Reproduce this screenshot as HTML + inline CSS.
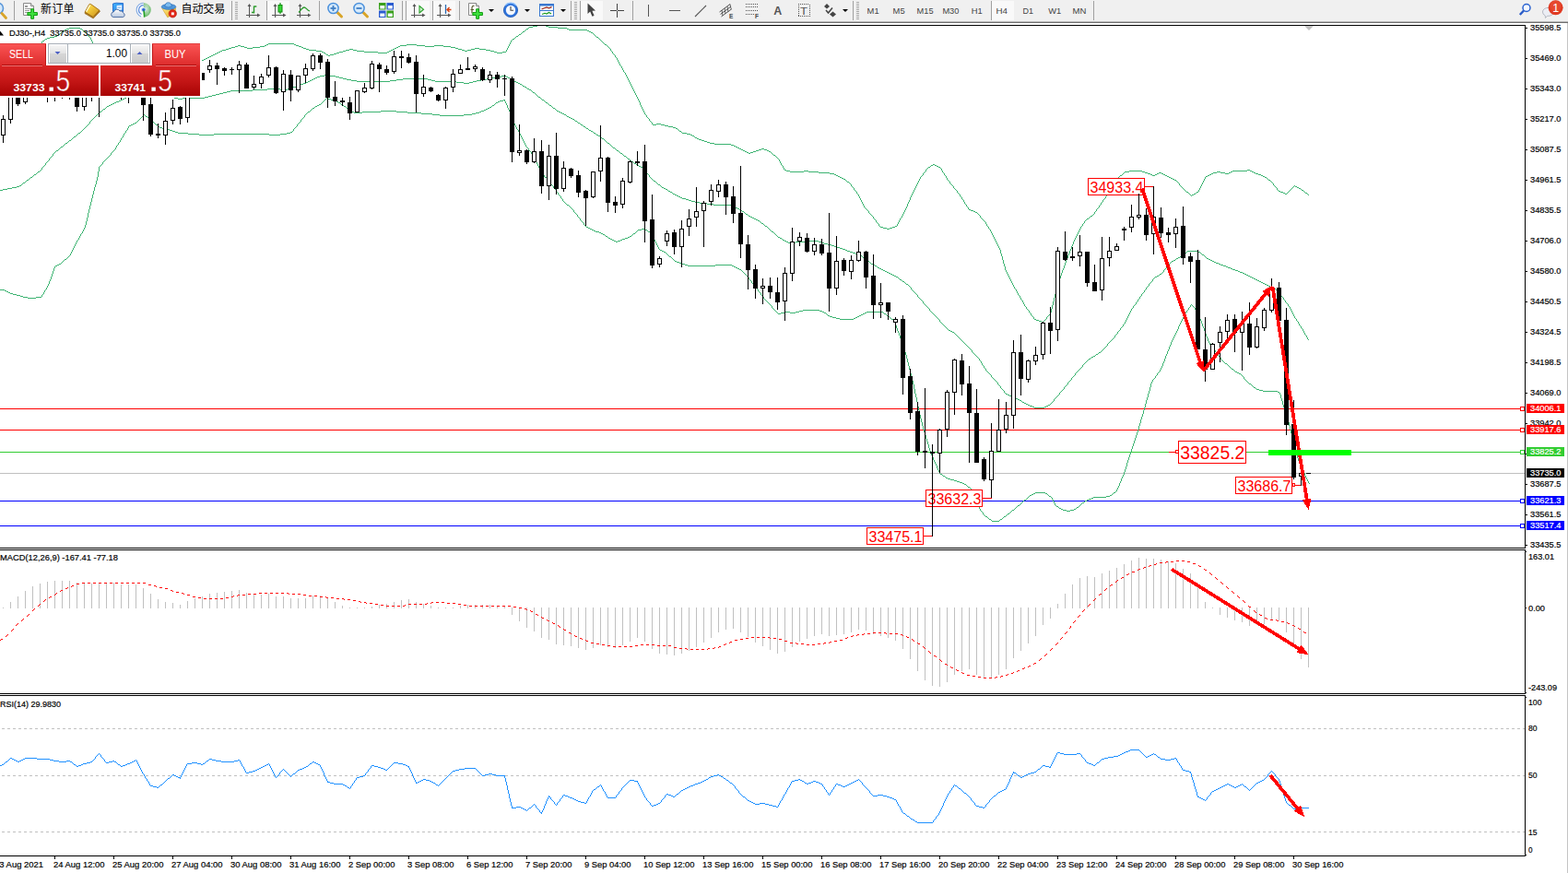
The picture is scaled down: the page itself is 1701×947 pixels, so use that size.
<!DOCTYPE html>
<html><head><meta charset="utf-8"><title>DJ30 H4</title>
<style>html,body{margin:0;padding:0;background:#fff;overflow:hidden}body{width:1701px;height:947px;font-family:"Liberation Sans",sans-serif}svg text{font-family:"Liberation Sans",sans-serif}</style>
</head><body>
<svg width="1701" height="947" viewBox="0 0 1701 947" font-family="Liberation Sans, sans-serif" style="display:block"><rect x="0" y="0" width="1701" height="947" fill="#fff"/>
<defs><clipPath id="cm"><rect x="0" y="28" width="1654" height="566"/></clipPath><clipPath id="cmacd"><rect x="0" y="597" width="1654" height="155"/></clipPath><clipPath id="crsi"><rect x="0" y="755" width="1654" height="173"/></clipPath><clipPath id="ctime"><rect x="0" y="929" width="1654" height="18"/></clipPath><linearGradient id="gTop" x1="0" y1="0" x2="0" y2="1"><stop offset="0" stop-color="#fb5555"/><stop offset="1" stop-color="#dd2c2c"/></linearGradient><linearGradient id="gBot" x1="0" y1="0" x2="0" y2="1"><stop offset="0" stop-color="#d82424"/><stop offset="0.5" stop-color="#c41616"/><stop offset="1" stop-color="#a80404"/></linearGradient><linearGradient id="gBotU" gradientUnits="userSpaceOnUse" x1="0" y1="71" x2="0" y2="104"><stop offset="0" stop-color="#d82424"/><stop offset="0.5" stop-color="#c41616"/><stop offset="1" stop-color="#a80404"/></linearGradient><linearGradient id="gBtn" x1="0" y1="0" x2="0" y2="1"><stop offset="0" stop-color="#f6f6f6"/><stop offset="0.45" stop-color="#e4e4e4"/><stop offset="0.5" stop-color="#d6d6d6"/><stop offset="1" stop-color="#cccccc"/></linearGradient></defs>
<g clip-path="url(#cm)">
<g shape-rendering="crispEdges">
<rect x="0" y="513" width="1654" height="1" fill="#c0c0c0"/>
<rect x="0" y="443" width="1654" height="1" fill="#ff0000"/>
<rect x="0" y="466" width="1654" height="1" fill="#ff0000"/>
<rect x="0" y="490" width="1654" height="1" fill="#32cd32"/>
<rect x="0" y="543" width="1654" height="1" fill="#0000ff"/>
<rect x="0" y="570" width="1654" height="1" fill="#0000ff"/>
<rect x="1649.5" y="441.5" width="4" height="4" fill="#fff" stroke="#ff0000" stroke-width="1"/>
<rect x="1649.5" y="464.5" width="4" height="4" fill="#fff" stroke="#ff0000" stroke-width="1"/>
<rect x="1649.5" y="488.5" width="4" height="4" fill="#fff" stroke="#32cd32" stroke-width="1"/>
<rect x="1649.5" y="541.5" width="4" height="4" fill="#fff" stroke="#0000ff" stroke-width="1"/>
<rect x="1649.5" y="568.5" width="4" height="4" fill="#fff" stroke="#0000ff" stroke-width="1"/>
</g>
<path d="M0 75h1v1h-1zM1 74h2v1h-2zM3 73h1v1h-1zM4 72h1v1h-1zM5 71h2v1h-2zM7 70h1v1h-1zM8 69h1v1h-1zM9 68h2v1h-2zM11 67h1v1h-1zM12 66h1v1h-1zM13 65h2v1h-2zM15 64h1v1h-1zM16 63h1v1h-1zM17 62h2v1h-2zM19 61h1v1h-1zM20 60h2v1h-2zM22 59h2v1h-2zM24 58h2v1h-2zM26 57h2v1h-2zM28 56h2v1h-2zM30 55h3v1h-3zM33 54h2v1h-2zM35 53h2v1h-2zM37 52h2v1h-2zM39 51h2v1h-2zM41 50h2v1h-2zM43 49h2v1h-2zM44 47v2h1v-2zM45 45v2h1v-2zM46 44h2v1h-2zM48 43h1v1h-1zM49 42h2v1h-2zM51 41h3v1h-3zM54 40h5v1h-5zM59 39h3v1h-3zM62 38h1v1h-1zM63 37h2v1h-2zM65 36h1v1h-1zM66 35h1v1h-1zM67 34h2v1h-2zM69 33h1v1h-1zM70 32h2v1h-2zM72 31h3v1h-3zM75 30h12v1h-12zM87 31h2v1h-2zM89 32h1v1h-1zM90 33h1v1h-1zM91 34h2v1h-2zM93 35h1v1h-1zM94 36h1v1h-1zM95 37v2h1v-2zM96 39h1v1h-1zM97 40h1v1h-1zM98 41v2h1v-2zM99 43v2h1v-2zM100 45v3h1v-3zM101 48v2h1v-2zM102 49h1v1h-1zM103 50h3v1h-3zM106 51h4v1h-4zM110 52h3v1h-3zM113 53h3v1h-3zM116 54h3v1h-3zM119 55h3v1h-3zM122 56h4v1h-4zM126 57h3v1h-3zM129 58h4v1h-4zM133 59h4v1h-4zM137 60h4v1h-4zM141 61h4v1h-4zM145 62h4v1h-4zM149 63h4v1h-4zM153 64h4v1h-4zM157 65h4v1h-4zM161 66h4v1h-4zM165 67h4v1h-4zM169 68h17v1h-17zM186 69h17v1h-17zM203 68h5v1h-5zM208 67h4v1h-4zM212 66h5v1h-5zM217 65h4v1h-4zM221 64h2v1h-2zM223 63h2v1h-2zM225 62h2v1h-2zM227 61h2v1h-2zM229 60h2v1h-2zM231 59h2v1h-2zM233 58h2v1h-2zM235 57h2v1h-2zM237 56h2v1h-2zM239 55h2v1h-2zM241 54h4v1h-4zM245 53h3v1h-3zM248 52h3v1h-3zM251 51h4v1h-4zM255 50h3v1h-3zM258 49h3v1h-3zM261 50h4v1h-4zM265 51h3v1h-3zM268 52h6v1h-6zM274 51h8v1h-8zM282 50h5v1h-5zM287 49h2v1h-2zM289 48h2v1h-2zM291 47h28v1h-28zM319 48h2v1h-2zM321 49h3v1h-3zM324 50h3v1h-3zM327 51h2v1h-2zM329 52h3v1h-3zM332 53h3v1h-3zM335 54h8v1h-8zM343 55h6v1h-6zM349 56h2v1h-2zM351 57h2v1h-2zM353 58h1v1h-1zM354 59h2v1h-2zM356 60h2v1h-2zM358 59h4v1h-4zM362 58h3v1h-3zM365 57h3v1h-3zM368 56h4v1h-4zM372 55h3v1h-3zM375 54h4v1h-4zM379 53h4v1h-4zM383 54h4v1h-4zM387 55h8v1h-8zM395 56h15v1h-15zM410 57h10v1h-10zM420 56h2v1h-2zM422 55h2v1h-2zM424 54h2v1h-2zM426 53h2v1h-2zM428 52h2v1h-2zM430 51h2v1h-2zM432 50h2v1h-2zM434 49h7v1h-7zM441 48h11v1h-11zM452 49h9v1h-9zM461 50h10v1h-10zM471 49h10v1h-10zM481 50h8v1h-8zM489 51h5v1h-5zM494 52h3v1h-3zM497 53h4v1h-4zM501 54h3v1h-3zM504 55h3v1h-3zM507 54h4v1h-4zM511 53h4v1h-4zM515 52h5v1h-5zM520 53h7v1h-7zM527 54h5v1h-5zM532 55h4v1h-4zM536 56h3v1h-3zM539 57h6v1h-6zM545 56h4v1h-4zM549 54v2h1v-2zM550 52v2h1v-2zM551 50v2h1v-2zM552 48v2h1v-2zM553 46v2h1v-2zM554 44v2h1v-2zM555 43h1v1h-1zM556 42h2v1h-2zM558 41h1v1h-1zM559 40h1v1h-1zM560 39h2v1h-2zM562 38h1v1h-1zM563 37h2v1h-2zM565 36h1v1h-1zM566 35h1v1h-1zM567 34h2v1h-2zM569 33h1v1h-1zM570 32h1v1h-1zM571 31h2v1h-2zM573 30h1v1h-1zM574 29h4v1h-4zM578 28h5v1h-5zM583 27h3v1h-3zM586 26h3v1h-3zM589 27h3v1h-3zM592 28h3v1h-3zM595 29h10v1h-10zM605 30h10v1h-10zM615 31h2v1h-2zM617 32h20v1h-20zM637 33h2v1h-2zM639 34h2v1h-2zM641 35h2v1h-2zM643 36h1v1h-1zM644 37h1v1h-1zM645 38h1v1h-1zM646 39h1v1h-1zM647 40h2v1h-2zM649 41h1v1h-1zM650 42h1v1h-1zM651 43h1v1h-1zM652 44h1v1h-1zM653 45h1v1h-1zM654 46h1v1h-1zM655 47h1v1h-1zM656 48h2v1h-2zM658 49h1v1h-1zM659 50h1v1h-1zM660 51h1v1h-1zM661 52h1v1h-1zM662 53v2h1v-2zM663 55h1v1h-1zM664 56v2h1v-2zM665 58h1v1h-1zM666 59h1v1h-1zM667 60v2h1v-2zM668 62h1v1h-1zM669 63v2h1v-2zM670 65v2h1v-2zM671 67v2h1v-2zM672 69v2h1v-2zM673 71h1v1h-1zM674 72v2h1v-2zM675 74v2h1v-2zM676 76v2h1v-2zM677 78h1v1h-1zM678 79v2h1v-2zM679 81v2h1v-2zM680 83v2h1v-2zM681 85v2h1v-2zM682 87v2h1v-2zM683 89v2h1v-2zM684 91v2h1v-2zM685 93v2h1v-2zM686 95v2h1v-2zM687 97v2h1v-2zM688 99v2h1v-2zM689 101v2h1v-2zM690 103v2h1v-2zM691 105v2h1v-2zM692 107v2h1v-2zM693 109v2h1v-2zM694 111v3h1v-3zM695 114v2h1v-2zM696 116v2h1v-2zM697 118v2h1v-2zM698 120v2h1v-2zM699 122v2h1v-2zM700 124h1v1h-1zM701 125v2h1v-2zM702 127h1v1h-1zM703 128h1v1h-1zM704 129v2h1v-2zM705 131h1v1h-1zM706 132h1v1h-1zM707 133v2h1v-2zM708 135h4v1h-4zM712 134h5v1h-5zM717 135h4v1h-4zM721 136h4v1h-4zM725 137h5v1h-5zM730 138h3v1h-3zM733 139h2v1h-2zM735 140h1v1h-1zM736 141h1v1h-1zM737 142h2v1h-2zM739 143h1v1h-1zM740 144h5v1h-5zM745 145h4v1h-4zM749 146h2v1h-2zM751 147h2v1h-2zM753 148h1v1h-1zM754 149h2v1h-2zM756 150h2v1h-2zM758 151h3v1h-3zM761 152h3v1h-3zM764 153h3v1h-3zM767 154h3v1h-3zM770 155h5v1h-5zM775 156h18v1h-18zM793 157h3v1h-3zM796 158h2v1h-2zM798 159h2v1h-2zM800 160h2v1h-2zM802 161h2v1h-2zM804 162h2v1h-2zM806 163h2v1h-2zM808 164h2v1h-2zM810 165h2v1h-2zM812 166h2v1h-2zM814 165h3v1h-3zM817 164h3v1h-3zM820 163h3v1h-3zM823 162h3v1h-3zM826 161h3v1h-3zM829 162h3v1h-3zM832 163h2v1h-2zM834 164h2v1h-2zM836 165h1v1h-1zM837 166h1v1h-1zM838 167h1v1h-1zM839 168h2v1h-2zM841 169h1v1h-1zM842 170h1v1h-1zM843 171h1v1h-1zM844 172h1v1h-1zM845 173v2h1v-2zM846 175v2h1v-2zM847 177v2h1v-2zM848 179h1v1h-1zM849 180v2h1v-2zM850 182v2h1v-2zM851 184h2v1h-2zM853 185h4v1h-4zM857 186h15v1h-15zM872 185h5v1h-5zM877 186h11v1h-11zM888 187h12v1h-12zM900 188h5v1h-5zM905 189h2v1h-2zM907 190h2v1h-2zM909 191h2v1h-2zM911 192h2v1h-2zM913 193h2v1h-2zM915 194h2v1h-2zM917 195h1v1h-1zM918 196h1v1h-1zM919 197h2v1h-2zM921 198h1v1h-1zM922 199h1v1h-1zM923 200v2h1v-2zM924 202h1v1h-1zM925 203h1v1h-1zM926 204v2h1v-2zM927 206h1v1h-1zM928 207h1v1h-1zM929 208v2h1v-2zM930 210h1v1h-1zM931 211v2h1v-2zM932 213v2h1v-2zM933 215v2h1v-2zM934 217v2h1v-2zM935 219v2h1v-2zM936 221v2h1v-2zM937 223v2h1v-2zM938 225h1v1h-1zM939 226h1v1h-1zM940 227h1v1h-1zM941 228h1v1h-1zM942 229v2h1v-2zM943 231h1v1h-1zM944 232h1v1h-1zM945 233h1v1h-1zM946 234h1v1h-1zM947 235v2h1v-2zM948 237h1v1h-1zM949 238h1v1h-1zM950 239v2h1v-2zM951 241h1v1h-1zM952 242h1v1h-1zM953 243v2h1v-2zM954 245h1v1h-1zM955 246h3v1h-3zM958 247h4v1h-4zM962 248h3v1h-3zM965 247h3v1h-3zM968 246h3v1h-3zM971 245h2v1h-2zM973 243v2h1v-2zM974 241v2h1v-2zM975 239v2h1v-2zM976 237v2h1v-2zM977 236h1v1h-1zM978 234v2h1v-2zM979 232v2h1v-2zM980 230v2h1v-2zM981 228v2h1v-2zM982 226v2h1v-2zM983 224v2h1v-2zM984 221v3h1v-3zM985 219v2h1v-2zM986 217v2h1v-2zM987 214v3h1v-3zM988 212v2h1v-2zM989 210v2h1v-2zM990 208v2h1v-2zM991 206v2h1v-2zM992 204v2h1v-2zM993 202v2h1v-2zM994 200v2h1v-2zM995 198v2h1v-2zM996 196v2h1v-2zM997 194v2h1v-2zM998 192v2h1v-2zM999 191h1v1h-1zM1000 190h1v1h-1zM1001 188v2h1v-2zM1002 187h1v1h-1zM1003 186h1v1h-1zM1004 184v2h1v-2zM1005 183h1v1h-1zM1006 182h1v1h-1zM1007 181h2v1h-2zM1009 180h1v1h-1zM1010 179h2v1h-2zM1012 178h2v1h-2zM1014 179h2v1h-2zM1016 180h2v1h-2zM1018 181h2v1h-2zM1020 182h1v1h-1zM1021 183v2h1v-2zM1022 185v2h1v-2zM1023 187h1v1h-1zM1024 188v2h1v-2zM1025 190h1v1h-1zM1026 191v2h1v-2zM1027 193v2h1v-2zM1028 195h1v1h-1zM1029 196h1v1h-1zM1030 197v2h1v-2zM1031 199h1v1h-1zM1032 200h1v1h-1zM1033 201h1v1h-1zM1034 202v2h1v-2zM1035 204h1v1h-1zM1036 205h1v1h-1zM1037 206h1v1h-1zM1038 207v2h1v-2zM1039 209h1v1h-1zM1040 210h1v1h-1zM1041 211v2h1v-2zM1042 213h1v1h-1zM1043 214v2h1v-2zM1044 216h1v1h-1zM1045 217v2h1v-2zM1046 219v2h1v-2zM1047 221h1v1h-1zM1048 222v2h1v-2zM1049 224h1v1h-1zM1050 225v2h1v-2zM1051 227h2v1h-2zM1053 228h3v1h-3zM1056 229h2v1h-2zM1058 230h2v1h-2zM1060 231h1v1h-1zM1061 232h1v1h-1zM1062 233h1v1h-1zM1063 234v2h1v-2zM1064 236h1v1h-1zM1065 237h1v1h-1zM1066 238h1v1h-1zM1067 239h1v1h-1zM1068 240h1v1h-1zM1069 241v2h1v-2zM1070 243v2h1v-2zM1071 245h1v1h-1zM1072 246v2h1v-2zM1073 248h1v1h-1zM1074 249v2h1v-2zM1075 251v2h1v-2zM1076 253v2h1v-2zM1077 255v2h1v-2zM1078 257v2h1v-2zM1079 259v2h1v-2zM1080 261v2h1v-2zM1081 263v2h1v-2zM1082 265v2h1v-2zM1083 267v2h1v-2zM1084 269v2h1v-2zM1085 271v4h1v-4zM1086 275v3h1v-3zM1087 278v4h1v-4zM1088 282v4h1v-4zM1089 286v3h1v-3zM1090 289v4h1v-4zM1091 293v2h1v-2zM1092 295v2h1v-2zM1093 297v2h1v-2zM1094 299v2h1v-2zM1095 301v2h1v-2zM1096 303v2h1v-2zM1097 305v2h1v-2zM1098 307v2h1v-2zM1099 309v2h1v-2zM1100 311v2h1v-2zM1101 313h1v1h-1zM1102 314v2h1v-2zM1103 316v2h1v-2zM1104 318v2h1v-2zM1105 320h1v1h-1zM1106 321v2h1v-2zM1107 323v2h1v-2zM1108 325h1v1h-1zM1109 326v2h1v-2zM1110 328v2h1v-2zM1111 330v2h1v-2zM1112 332h1v1h-1zM1113 333v2h1v-2zM1114 335h1v1h-1zM1115 336h1v1h-1zM1116 337v2h1v-2zM1117 339h1v1h-1zM1118 340v2h1v-2zM1119 342h1v1h-1zM1120 343h1v1h-1zM1121 344v2h1v-2zM1122 346h2v1h-2zM1124 347h3v1h-3zM1127 348h3v1h-3zM1130 349h2v1h-2zM1132 348h1v1h-1zM1133 347h1v1h-1zM1134 346h1v1h-1zM1135 344v2h1v-2zM1136 343h1v1h-1zM1137 342h1v1h-1zM1138 341h1v1h-1zM1139 339v2h1v-2zM1140 335v4h1v-4zM1141 331v4h1v-4zM1142 327v4h1v-4zM1143 323v4h1v-4zM1144 319v4h1v-4zM1145 316v3h1v-3zM1146 312v4h1v-4zM1147 309v3h1v-3zM1148 306v3h1v-3zM1149 302v4h1v-4zM1150 299v3h1v-3zM1151 296v3h1v-3zM1152 293v3h1v-3zM1153 291v2h1v-2zM1154 288v3h1v-3zM1155 285v3h1v-3zM1156 282v3h1v-3zM1157 280v2h1v-2zM1158 277v3h1v-3zM1159 275v2h1v-2zM1160 272v3h1v-3zM1161 270v2h1v-2zM1162 267v3h1v-3zM1163 265v2h1v-2zM1164 262v3h1v-3zM1165 260v2h1v-2zM1166 258v2h1v-2zM1167 256v2h1v-2zM1168 254v2h1v-2zM1169 252v2h1v-2zM1170 250v2h1v-2zM1171 248v2h1v-2zM1172 246v2h1v-2zM1173 245h1v1h-1zM1174 243v2h1v-2zM1175 242h1v1h-1zM1176 240v2h1v-2zM1177 239h1v1h-1zM1178 238h1v1h-1zM1179 237h2v1h-2zM1181 236h1v1h-1zM1182 235h1v1h-1zM1183 234h2v1h-2zM1185 233h1v1h-1zM1186 232h1v1h-1zM1187 230v2h1v-2zM1188 229h1v1h-1zM1189 227v2h1v-2zM1190 226h1v1h-1zM1191 225h1v1h-1zM1192 223v2h1v-2zM1193 222h1v1h-1zM1194 220v2h1v-2zM1195 219h1v1h-1zM1196 217v2h1v-2zM1197 216h1v1h-1zM1198 215h1v1h-1zM1199 213v2h1v-2zM1200 212h1v1h-1zM1201 210v2h1v-2zM1202 209h1v1h-1zM1203 207v2h1v-2zM1204 205v2h1v-2zM1205 204h1v1h-1zM1206 202v2h1v-2zM1207 201h1v1h-1zM1208 199v2h1v-2zM1209 197v2h1v-2zM1210 196h1v1h-1zM1211 194v2h1v-2zM1212 193h1v1h-1zM1213 192h1v1h-1zM1214 191h1v1h-1zM1215 190h2v1h-2zM1217 189h1v1h-1zM1218 188h1v1h-1zM1219 187h1v1h-1zM1220 186h5v1h-5zM1225 185h14v1h-14zM1239 186h3v1h-3zM1242 187h3v1h-3zM1245 188h3v1h-3zM1248 189h2v1h-2zM1250 190h3v1h-3zM1253 189h2v1h-2zM1255 188h2v1h-2zM1257 187h3v1h-3zM1260 188h2v1h-2zM1262 189h2v1h-2zM1264 190h2v1h-2zM1266 191h2v1h-2zM1268 192h2v1h-2zM1270 193h2v1h-2zM1272 194h2v1h-2zM1274 195h2v1h-2zM1276 196h1v1h-1zM1277 197h1v1h-1zM1278 198h1v1h-1zM1279 199v2h1v-2zM1280 201h1v1h-1zM1281 202h1v1h-1zM1282 203h1v1h-1zM1283 204h1v1h-1zM1284 205h1v1h-1zM1285 206h1v1h-1zM1286 207h1v1h-1zM1287 208h2v1h-2zM1289 209h1v1h-1zM1290 210h1v1h-1zM1291 211h1v1h-1zM1292 212h1v1h-1zM1293 211h2v1h-2zM1295 210h2v1h-2zM1297 209h1v1h-1zM1298 208h2v1h-2zM1300 206v2h1v-2zM1301 204v2h1v-2zM1302 202v2h1v-2zM1303 200v2h1v-2zM1304 198v2h1v-2zM1305 196v2h1v-2zM1306 194v2h1v-2zM1307 192v2h1v-2zM1308 191h2v1h-2zM1310 190h2v1h-2zM1312 189h2v1h-2zM1314 188h2v1h-2zM1316 187h4v1h-4zM1320 186h4v1h-4zM1324 187h5v1h-5zM1329 188h4v1h-4zM1333 187h2v1h-2zM1335 186h2v1h-2zM1337 185h16v1h-16zM1353 184h3v1h-3zM1356 185h2v1h-2zM1358 186h2v1h-2zM1360 187h2v1h-2zM1362 188h3v1h-3zM1365 189h3v1h-3zM1368 190h2v1h-2zM1370 191h2v1h-2zM1372 192h2v1h-2zM1374 193h1v1h-1zM1375 194h1v1h-1zM1376 195h2v1h-2zM1378 196h1v1h-1zM1379 197h1v1h-1zM1380 198h1v1h-1zM1381 199v2h1v-2zM1382 201h1v1h-1zM1383 202h1v1h-1zM1384 203h1v1h-1zM1385 204v2h1v-2zM1386 206h1v1h-1zM1387 207h2v1h-2zM1389 208h3v1h-3zM1392 209h2v1h-2zM1394 210h2v1h-2zM1396 209h1v1h-1zM1397 208h1v1h-1zM1398 207h1v1h-1zM1399 206h1v1h-1zM1400 205h1v1h-1zM1401 204h1v1h-1zM1402 203h1v1h-1zM1403 202h1v1h-1zM1404 201h1v1h-1zM1405 202h2v1h-2zM1407 203h2v1h-2zM1409 204h2v1h-2zM1411 205h1v1h-1zM1412 206h2v1h-2zM1414 207h1v1h-1zM1415 208h1v1h-1zM1416 209h2v1h-2zM1418 210h1v1h-1zM1419 211h1v1h-1zM0 206h3v1h-3zM3 205h5v1h-5zM8 204h5v1h-5zM13 203h5v1h-5zM18 202h3v1h-3zM21 201h2v1h-2zM23 200h1v1h-1zM24 199h1v1h-1zM25 198h2v1h-2zM27 197h1v1h-1zM28 196h1v1h-1zM29 195h2v1h-2zM31 194h1v1h-1zM32 193h1v1h-1zM33 192h2v1h-2zM35 191h1v1h-1zM36 190h1v1h-1zM37 189h2v1h-2zM39 188h1v1h-1zM40 187h1v1h-1zM41 186h2v1h-2zM43 185h1v1h-1zM44 184h1v1h-1zM45 182v2h1v-2zM46 181h1v1h-1zM47 180h1v1h-1zM48 179h1v1h-1zM49 177v2h1v-2zM50 176h1v1h-1zM51 175h1v1h-1zM52 174h1v1h-1zM53 172v2h1v-2zM54 171h1v1h-1zM55 170h1v1h-1zM56 169h1v1h-1zM57 167v2h1v-2zM58 166h1v1h-1zM59 165h1v1h-1zM60 164h1v1h-1zM61 163h2v1h-2zM63 162h1v1h-1zM64 161h1v1h-1zM65 160h1v1h-1zM66 159h2v1h-2zM68 158h1v1h-1zM69 157h1v1h-1zM70 156h1v1h-1zM71 155h2v1h-2zM73 154h1v1h-1zM74 153h1v1h-1zM75 152h2v1h-2zM77 151h1v1h-1zM78 150h1v1h-1zM79 149h1v1h-1zM80 148h2v1h-2zM82 147h1v1h-1zM83 146h1v1h-1zM84 145h1v1h-1zM85 144h2v1h-2zM87 143h1v1h-1zM88 142h1v1h-1zM89 141h1v1h-1zM90 140h1v1h-1zM91 139h1v1h-1zM92 138h1v1h-1zM93 137h1v1h-1zM94 136h1v1h-1zM95 135h1v1h-1zM96 134h1v1h-1zM97 132v2h1v-2zM98 131h1v1h-1zM99 130h1v1h-1zM100 129h1v1h-1zM101 128h1v1h-1zM102 127h1v1h-1zM103 126h1v1h-1zM104 125h1v1h-1zM105 124h1v1h-1zM106 123h1v1h-1zM107 122h1v1h-1zM108 121h2v1h-2zM110 120h1v1h-1zM111 119h1v1h-1zM112 118h2v1h-2zM114 117h1v1h-1zM115 116h1v1h-1zM116 115h2v1h-2zM118 114h2v1h-2zM120 113h2v1h-2zM122 112h2v1h-2zM124 111h2v1h-2zM126 110h3v1h-3zM129 109h2v1h-2zM131 108h2v1h-2zM133 107h2v1h-2zM135 106h2v1h-2zM137 105h2v1h-2zM139 104h1v1h-1zM140 103h4v1h-4zM144 102h7v1h-7zM151 101h6v1h-6zM157 100h8v1h-8zM165 101h8v1h-8zM173 102h8v1h-8zM181 103h5v1h-5zM186 104h2v1h-2zM188 105h1v1h-1zM189 106h4v1h-4zM193 107h5v1h-5zM198 106h24v1h-24zM222 105h4v1h-4zM226 104h4v1h-4zM230 103h4v1h-4zM234 102h4v1h-4zM238 101h4v1h-4zM242 100h4v1h-4zM246 99h4v1h-4zM250 98h24v1h-24zM274 97h16v1h-16zM290 96h14v1h-14zM304 97h8v1h-8zM312 96h3v1h-3zM315 95h3v1h-3zM318 94h3v1h-3zM321 93h2v1h-2zM323 92h3v1h-3zM326 91h3v1h-3zM329 90h3v1h-3zM332 89h2v1h-2zM334 88h2v1h-2zM336 87h2v1h-2zM338 86h2v1h-2zM340 85h2v1h-2zM342 84h2v1h-2zM344 83h3v1h-3zM347 82h5v1h-5zM352 81h6v1h-6zM358 82h6v1h-6zM364 83h4v1h-4zM368 84h4v1h-4zM372 85h4v1h-4zM376 86h5v1h-5zM381 87h6v1h-6zM387 88h36v1h-36zM423 87h7v1h-7zM430 86h7v1h-7zM437 85h27v1h-27zM464 86h4v1h-4zM468 87h4v1h-4zM472 88h23v1h-23zM495 89h8v1h-8zM503 90h6v1h-6zM509 89h4v1h-4zM513 88h4v1h-4zM517 87h5v1h-5zM522 86h6v1h-6zM528 85h5v1h-5zM533 84h6v1h-6zM539 83h5v1h-5zM544 82h5v1h-5zM549 83h2v1h-2zM551 84h2v1h-2zM553 85h2v1h-2zM555 86h1v1h-1zM556 87h2v1h-2zM558 88h2v1h-2zM560 89h2v1h-2zM562 90h2v1h-2zM564 91h2v1h-2zM566 92h1v1h-1zM567 93h2v1h-2zM569 94h2v1h-2zM571 95h1v1h-1zM572 96h2v1h-2zM574 97h2v1h-2zM576 98h1v1h-1zM577 99h1v1h-1zM578 100h2v1h-2zM580 101h1v1h-1zM581 102h1v1h-1zM582 103h1v1h-1zM583 104h1v1h-1zM584 105h2v1h-2zM586 106h1v1h-1zM587 107h1v1h-1zM588 108h2v1h-2zM590 109h1v1h-1zM591 110h1v1h-1zM592 111h2v1h-2zM594 112h1v1h-1zM595 113h1v1h-1zM596 114h2v1h-2zM598 115h1v1h-1zM599 116h1v1h-1zM600 117h2v1h-2zM602 118h1v1h-1zM603 119h1v1h-1zM604 120h2v1h-2zM606 121h2v1h-2zM608 122h2v1h-2zM610 123h2v1h-2zM612 124h2v1h-2zM614 125h1v1h-1zM615 126h2v1h-2zM617 127h2v1h-2zM619 128h2v1h-2zM621 129h2v1h-2zM623 130h1v1h-1zM624 131h2v1h-2zM626 132h1v1h-1zM627 133h2v1h-2zM629 134h1v1h-1zM630 135h2v1h-2zM632 136h1v1h-1zM633 137h2v1h-2zM635 138h1v1h-1zM636 139h2v1h-2zM638 140h1v1h-1zM639 141h2v1h-2zM641 142h2v1h-2zM643 143h1v1h-1zM644 144h2v1h-2zM646 145h1v1h-1zM647 146h2v1h-2zM649 147h2v1h-2zM651 148h1v1h-1zM652 149h1v1h-1zM653 150h2v1h-2zM655 151h1v1h-1zM656 152h1v1h-1zM657 153h1v1h-1zM658 154h1v1h-1zM659 155h2v1h-2zM661 156h1v1h-1zM662 157h1v1h-1zM663 158h1v1h-1zM664 159h1v1h-1zM665 160h2v1h-2zM667 161h1v1h-1zM668 162h1v1h-1zM669 163h2v1h-2zM671 164h1v1h-1zM672 165h1v1h-1zM673 166h2v1h-2zM675 167h1v1h-1zM676 168h1v1h-1zM677 169h2v1h-2zM679 170h1v1h-1zM680 171h1v1h-1zM681 172h2v1h-2zM683 173h1v1h-1zM684 174h1v1h-1zM685 175h2v1h-2zM687 176h1v1h-1zM688 177h2v1h-2zM690 178h2v1h-2zM692 179h1v1h-1zM693 180h2v1h-2zM695 181h2v1h-2zM697 182h1v1h-1zM698 183h1v1h-1zM699 184v2h1v-2zM700 186h1v1h-1zM701 187h1v1h-1zM702 188h1v1h-1zM703 189h1v1h-1zM704 190v2h1v-2zM705 192h1v1h-1zM706 193h1v1h-1zM707 194h1v1h-1zM708 195h1v1h-1zM709 196h2v1h-2zM711 197h1v1h-1zM712 198h1v1h-1zM713 199h1v1h-1zM714 200h2v1h-2zM716 201h1v1h-1zM717 202h1v1h-1zM718 203h2v1h-2zM720 204h2v1h-2zM722 205h2v1h-2zM724 206h1v1h-1zM725 207h2v1h-2zM727 208h2v1h-2zM729 209h1v1h-1zM730 210h2v1h-2zM732 211h2v1h-2zM734 212h2v1h-2zM736 213h2v1h-2zM738 214h2v1h-2zM740 215h4v1h-4zM744 216h3v1h-3zM747 217h3v1h-3zM750 218h4v1h-4zM754 219h5v1h-5zM759 220h8v1h-8zM767 221h7v1h-7zM774 222h20v1h-20zM794 223h2v1h-2zM796 224h2v1h-2zM798 225h2v1h-2zM800 226h2v1h-2zM802 227h2v1h-2zM804 228h1v1h-1zM805 229h2v1h-2zM807 230h1v1h-1zM808 231h1v1h-1zM809 232h2v1h-2zM811 233h1v1h-1zM812 234h2v1h-2zM814 235h2v1h-2zM816 236h2v1h-2zM818 237h2v1h-2zM820 238h2v1h-2zM822 239h2v1h-2zM824 240h1v1h-1zM825 241h1v1h-1zM826 242h2v1h-2zM828 243h1v1h-1zM829 244h1v1h-1zM830 245h2v1h-2zM832 246h1v1h-1zM833 247h1v1h-1zM834 248h1v1h-1zM835 249h1v1h-1zM836 250h1v1h-1zM837 251h2v1h-2zM839 252h1v1h-1zM840 253h1v1h-1zM841 254h1v1h-1zM842 255h1v1h-1zM843 256h1v1h-1zM844 257h2v1h-2zM846 258h2v1h-2zM848 259h1v1h-1zM849 260h2v1h-2zM851 261h2v1h-2zM853 262h2v1h-2zM855 263h8v1h-8zM863 262h15v1h-15zM878 261h10v1h-10zM888 262h3v1h-3zM891 263h3v1h-3zM894 264h4v1h-4zM898 265h4v1h-4zM902 266h3v1h-3zM905 267h3v1h-3zM908 268h3v1h-3zM911 269h3v1h-3zM914 270h3v1h-3zM917 271h2v1h-2zM919 272h3v1h-3zM922 273h3v1h-3zM925 274h3v1h-3zM928 275h3v1h-3zM931 276h2v1h-2zM933 277h2v1h-2zM935 278h1v1h-1zM936 279h1v1h-1zM937 280h2v1h-2zM939 281h1v1h-1zM940 282h1v1h-1zM941 283h2v1h-2zM943 284h1v1h-1zM944 285h1v1h-1zM945 286h2v1h-2zM947 287h2v1h-2zM949 288h2v1h-2zM951 289h1v1h-1zM952 290h2v1h-2zM954 291h2v1h-2zM956 292h2v1h-2zM958 293h2v1h-2zM960 294h2v1h-2zM962 295h2v1h-2zM964 296h2v1h-2zM966 297h2v1h-2zM968 298h2v1h-2zM970 299h2v1h-2zM972 300h2v1h-2zM974 301h1v1h-1zM975 302h1v1h-1zM976 303h2v1h-2zM978 304h1v1h-1zM979 305h2v1h-2zM981 306h1v1h-1zM982 307h1v1h-1zM983 308h2v1h-2zM985 309h1v1h-1zM986 310h1v1h-1zM987 311h1v1h-1zM988 312v2h1v-2zM989 314h1v1h-1zM990 315h1v1h-1zM991 316h1v1h-1zM992 317h1v1h-1zM993 318h1v1h-1zM994 319h1v1h-1zM995 320v2h1v-2zM996 322h1v1h-1zM997 323h1v1h-1zM998 324h1v1h-1zM999 325h1v1h-1zM1000 326h1v1h-1zM1001 327v2h1v-2zM1002 329h1v1h-1zM1003 330h1v1h-1zM1004 331h1v1h-1zM1005 332h1v1h-1zM1006 333h1v1h-1zM1007 334h1v1h-1zM1008 335v2h1v-2zM1009 337h1v1h-1zM1010 338h1v1h-1zM1011 339h1v1h-1zM1012 340h1v1h-1zM1013 341h1v1h-1zM1014 342h1v1h-1zM1015 343h1v1h-1zM1016 344h1v1h-1zM1017 345h1v1h-1zM1018 346h1v1h-1zM1019 347v2h1v-2zM1020 349h1v1h-1zM1021 350h1v1h-1zM1022 351h1v1h-1zM1023 352h1v1h-1zM1024 353h1v1h-1zM1025 354h1v1h-1zM1026 355h1v1h-1zM1027 356h1v1h-1zM1028 357h1v1h-1zM1029 358h2v1h-2zM1031 359h2v1h-2zM1033 360h2v1h-2zM1035 361h1v1h-1zM1036 362h1v1h-1zM1037 363h1v1h-1zM1038 364h1v1h-1zM1039 365h1v1h-1zM1040 366h1v1h-1zM1041 367h1v1h-1zM1042 368h1v1h-1zM1043 369h1v1h-1zM1044 370h1v1h-1zM1045 371h1v1h-1zM1046 372h1v1h-1zM1047 373h1v1h-1zM1048 374h1v1h-1zM1049 375h1v1h-1zM1050 376h1v1h-1zM1051 377h1v1h-1zM1052 378h1v1h-1zM1053 379h1v1h-1zM1054 380v2h1v-2zM1055 382h1v1h-1zM1056 383h1v1h-1zM1057 384h1v1h-1zM1058 385h1v1h-1zM1059 386h1v1h-1zM1060 387h1v1h-1zM1061 388h1v1h-1zM1062 389v2h1v-2zM1063 391h1v1h-1zM1064 392v2h1v-2zM1065 394v2h1v-2zM1066 396h1v1h-1zM1067 397v2h1v-2zM1068 399h1v1h-1zM1069 400v2h1v-2zM1070 402h1v1h-1zM1071 403h1v1h-1zM1072 404h1v1h-1zM1073 405h1v1h-1zM1074 406h1v1h-1zM1075 407v2h1v-2zM1076 409h1v1h-1zM1077 410h1v1h-1zM1078 411h1v1h-1zM1079 412h1v1h-1zM1080 413h1v1h-1zM1081 414h1v1h-1zM1082 415v2h1v-2zM1083 417h1v1h-1zM1084 418h1v1h-1zM1085 419v2h1v-2zM1086 421h1v1h-1zM1087 422h1v1h-1zM1088 423h1v1h-1zM1089 424v2h1v-2zM1090 426h1v1h-1zM1091 427h2v1h-2zM1093 428h2v1h-2zM1095 429h2v1h-2zM1097 430h3v1h-3zM1100 431h2v1h-2zM1102 432h2v1h-2zM1104 433h2v1h-2zM1106 434h2v1h-2zM1108 435h1v1h-1zM1109 436h2v1h-2zM1111 437h2v1h-2zM1113 438h2v1h-2zM1115 439h2v1h-2zM1117 440h3v1h-3zM1120 441h2v1h-2zM1122 442h11v1h-11zM1133 441h2v1h-2zM1135 440h2v1h-2zM1137 439h2v1h-2zM1139 438h1v1h-1zM1140 437h1v1h-1zM1141 436h1v1h-1zM1142 435h1v1h-1zM1143 433v2h1v-2zM1144 432h1v1h-1zM1145 431h1v1h-1zM1146 430h1v1h-1zM1147 429h1v1h-1zM1148 428h1v1h-1zM1149 426v2h1v-2zM1150 425h1v1h-1zM1151 424h1v1h-1zM1152 423h1v1h-1zM1153 422h1v1h-1zM1154 420v2h1v-2zM1155 419h1v1h-1zM1156 418h1v1h-1zM1157 417h1v1h-1zM1158 415v2h1v-2zM1159 414h1v1h-1zM1160 413h1v1h-1zM1161 412h1v1h-1zM1162 410v2h1v-2zM1163 409h1v1h-1zM1164 408h1v1h-1zM1165 407h1v1h-1zM1166 405v2h1v-2zM1167 404h1v1h-1zM1168 403h1v1h-1zM1169 402h1v1h-1zM1170 401h1v1h-1zM1171 400h1v1h-1zM1172 399h1v1h-1zM1173 398h1v1h-1zM1174 396v2h1v-2zM1175 395h1v1h-1zM1176 394h1v1h-1zM1177 393h1v1h-1zM1178 392h1v1h-1zM1179 391h1v1h-1zM1180 390h1v1h-1zM1181 389h2v1h-2zM1183 388h1v1h-1zM1184 387h2v1h-2zM1186 386h2v1h-2zM1188 385h1v1h-1zM1189 384h2v1h-2zM1191 383h1v1h-1zM1192 382h2v1h-2zM1194 381h1v1h-1zM1195 380h1v1h-1zM1196 379h1v1h-1zM1197 378h1v1h-1zM1198 377h1v1h-1zM1199 376h1v1h-1zM1200 375h1v1h-1zM1201 373v2h1v-2zM1202 372h1v1h-1zM1203 371h1v1h-1zM1204 370h1v1h-1zM1205 369h1v1h-1zM1206 368h1v1h-1zM1207 367h1v1h-1zM1208 366h1v1h-1zM1209 364v2h1v-2zM1210 363h1v1h-1zM1211 362h1v1h-1zM1212 360v2h1v-2zM1213 359h1v1h-1zM1214 358h1v1h-1zM1215 356v2h1v-2zM1216 355h1v1h-1zM1217 354h1v1h-1zM1218 352v2h1v-2zM1219 351h1v1h-1zM1220 349v2h1v-2zM1221 347v2h1v-2zM1222 345v2h1v-2zM1223 343v2h1v-2zM1224 341v2h1v-2zM1225 339v2h1v-2zM1226 337v2h1v-2zM1227 335v2h1v-2zM1228 334h1v1h-1zM1229 332v2h1v-2zM1230 331h1v1h-1zM1231 330h1v1h-1zM1232 328v2h1v-2zM1233 327h1v1h-1zM1234 325v2h1v-2zM1235 324h1v1h-1zM1236 322v2h1v-2zM1237 321h1v1h-1zM1238 319v2h1v-2zM1239 318h1v1h-1zM1240 317h1v1h-1zM1241 315v2h1v-2zM1242 314h1v1h-1zM1243 312v2h1v-2zM1244 311h1v1h-1zM1245 310h1v1h-1zM1246 308v2h1v-2zM1247 307h1v1h-1zM1248 306h1v1h-1zM1249 305h1v1h-1zM1250 303v2h1v-2zM1251 302h1v1h-1zM1252 301h1v1h-1zM1253 300h2v1h-2zM1255 299h2v1h-2zM1257 298h1v1h-1zM1258 297h2v1h-2zM1260 296h1v1h-1zM1261 295h1v1h-1zM1262 293v2h1v-2zM1263 292h1v1h-1zM1264 291h1v1h-1zM1265 290h1v1h-1zM1266 289h1v1h-1zM1267 287v2h1v-2zM1268 286h1v1h-1zM1269 285h1v1h-1zM1270 284h1v1h-1zM1271 283h2v1h-2zM1273 282h2v1h-2zM1275 281h1v1h-1zM1276 280h2v1h-2zM1278 279h2v1h-2zM1280 278h1v1h-1zM1281 277h2v1h-2zM1283 276h1v1h-1zM1284 275h1v1h-1zM1285 274h2v1h-2zM1287 273h1v1h-1zM1288 272h12v1h-12zM1300 273h2v1h-2zM1302 274h1v1h-1zM1303 275h1v1h-1zM1304 276h2v1h-2zM1306 277h1v1h-1zM1307 278h1v1h-1zM1308 279h1v1h-1zM1309 280h2v1h-2zM1311 281h2v1h-2zM1313 282h2v1h-2zM1315 283h2v1h-2zM1317 284h2v1h-2zM1319 285h3v1h-3zM1322 286h2v1h-2zM1324 287h3v1h-3zM1327 288h3v1h-3zM1330 289h2v1h-2zM1332 290h3v1h-3zM1335 291h2v1h-2zM1337 292h3v1h-3zM1340 293h3v1h-3zM1343 294h2v1h-2zM1345 295h3v1h-3zM1348 296h2v1h-2zM1350 297h2v1h-2zM1352 298h2v1h-2zM1354 299h2v1h-2zM1356 300h2v1h-2zM1358 301h2v1h-2zM1360 302h2v1h-2zM1362 303h2v1h-2zM1364 304h2v1h-2zM1366 305h2v1h-2zM1368 306h2v1h-2zM1370 307h2v1h-2zM1372 308h2v1h-2zM1374 309h2v1h-2zM1376 310h2v1h-2zM1378 311h2v1h-2zM1380 312h2v1h-2zM1382 313h2v1h-2zM1384 314h1v1h-1zM1385 315h1v1h-1zM1386 316h1v1h-1zM1387 317v2h1v-2zM1388 319h1v1h-1zM1389 320h1v1h-1zM1390 321h1v1h-1zM1391 322h1v1h-1zM1392 323v2h1v-2zM1393 325h1v1h-1zM1394 326v2h1v-2zM1395 328h1v1h-1zM1396 329h1v1h-1zM1397 330v2h1v-2zM1398 332h1v1h-1zM1399 333v2h1v-2zM1400 335v2h1v-2zM1401 337v2h1v-2zM1402 339v2h1v-2zM1403 341v2h1v-2zM1404 343v2h1v-2zM1405 345h1v1h-1zM1406 346v2h1v-2zM1407 348h1v1h-1zM1408 349v2h1v-2zM1409 351v2h1v-2zM1410 353h1v1h-1zM1411 354v2h1v-2zM1412 356h1v1h-1zM1413 357v2h1v-2zM1414 359v2h1v-2zM1415 361v2h1v-2zM1416 363h1v1h-1zM1417 364v2h1v-2zM1418 366v2h1v-2zM1419 368h1v1h-1zM0 314h5v1h-5zM5 315h2v1h-2zM7 316h2v1h-2zM9 317h2v1h-2zM11 318h3v1h-3zM14 319h4v1h-4zM18 320h4v1h-4zM22 321h3v1h-3zM25 322h5v1h-5zM30 323h9v1h-9zM39 322h6v1h-6zM45 320v2h1v-2zM46 319h1v1h-1zM47 317v2h1v-2zM48 315v2h1v-2zM49 314h1v1h-1zM50 312v2h1v-2zM51 310v2h1v-2zM52 308v2h1v-2zM53 305v3h1v-3zM54 303v2h1v-2zM55 300v3h1v-3zM56 297v3h1v-3zM57 294v3h1v-3zM58 291v3h1v-3zM59 289v2h1v-2zM60 288h2v1h-2zM62 287h2v1h-2zM64 286h2v1h-2zM66 285h1v1h-1zM67 284h1v1h-1zM68 283h1v1h-1zM69 282h1v1h-1zM70 281h2v1h-2zM72 280h1v1h-1zM73 279h1v1h-1zM74 278h1v1h-1zM75 277h1v1h-1zM76 275v2h1v-2zM77 273v2h1v-2zM78 271v2h1v-2zM79 269v2h1v-2zM80 267v2h1v-2zM81 265v2h1v-2zM82 263v2h1v-2zM83 261v2h1v-2zM84 260h1v1h-1zM85 258v2h1v-2zM86 256v2h1v-2zM87 254v2h1v-2zM88 253h1v1h-1zM89 251v2h1v-2zM90 249v2h1v-2zM91 247v2h1v-2zM92 244v3h1v-3zM93 240v4h1v-4zM94 236v4h1v-4zM95 231v5h1v-5zM96 227v4h1v-4zM97 223v4h1v-4zM98 219v4h1v-4zM99 215v4h1v-4zM100 211v4h1v-4zM101 207v4h1v-4zM102 203v4h1v-4zM103 200v3h1v-3zM104 196v4h1v-4zM105 192v4h1v-4zM106 186v6h1v-6zM107 181v5h1v-5zM108 180h1v1h-1zM109 179h1v1h-1zM110 178h1v1h-1zM111 176v2h1v-2zM112 175h1v1h-1zM113 174h1v1h-1zM114 173h1v1h-1zM115 172h1v1h-1zM116 171h1v1h-1zM117 170h1v1h-1zM118 169h1v1h-1zM119 168h1v1h-1zM120 166v2h1v-2zM121 165h1v1h-1zM122 164h1v1h-1zM123 163h1v1h-1zM124 162h1v1h-1zM125 160v2h1v-2zM126 158v2h1v-2zM127 157h1v1h-1zM128 155v2h1v-2zM129 154h1v1h-1zM130 152v2h1v-2zM131 150v2h1v-2zM132 149h1v1h-1zM133 147v2h1v-2zM134 145v2h1v-2zM135 144h1v1h-1zM136 142v2h1v-2zM137 141h1v1h-1zM138 139v2h1v-2zM139 137v2h1v-2zM140 136h2v1h-2zM142 135h2v1h-2zM144 134h2v1h-2zM146 133h2v1h-2zM148 132h1v1h-1zM149 131h1v1h-1zM150 130h1v1h-1zM151 129h1v1h-1zM152 128h1v1h-1zM153 127h1v1h-1zM154 126h1v1h-1zM155 125h1v1h-1zM156 124h1v1h-1zM157 125h1v1h-1zM158 126h2v1h-2zM160 127h1v1h-1zM161 128h1v1h-1zM162 129h1v1h-1zM163 130h2v1h-2zM165 131h1v1h-1zM166 132h1v1h-1zM167 133h1v1h-1zM168 134h1v1h-1zM169 135h2v1h-2zM171 136h1v1h-1zM172 137h1v1h-1zM173 138h3v1h-3zM176 139h4v1h-4zM180 140h4v1h-4zM184 141h3v1h-3zM187 142h3v1h-3zM190 143h3v1h-3zM193 144h11v1h-11zM204 145h12v1h-12zM216 146h16v1h-16zM232 145h60v1h-60zM292 146h12v1h-12zM304 145h7v1h-7zM311 144h4v1h-4zM315 143h2v1h-2zM317 142h1v1h-1zM318 140v2h1v-2zM319 139h1v1h-1zM320 138h1v1h-1zM321 137h1v1h-1zM322 135v2h1v-2zM323 134h1v1h-1zM324 133h1v1h-1zM325 132h1v1h-1zM326 130v2h1v-2zM327 129h1v1h-1zM328 128h1v1h-1zM329 127h1v1h-1zM330 125v2h1v-2zM331 124h1v1h-1zM332 123h1v1h-1zM333 122h1v1h-1zM334 121h2v1h-2zM336 120h1v1h-1zM337 119h1v1h-1zM338 118h1v1h-1zM339 117h2v1h-2zM341 116h1v1h-1zM342 115h2v1h-2zM344 114h2v1h-2zM346 113h2v1h-2zM348 112h1v1h-1zM349 111h1v1h-1zM350 110h1v1h-1zM351 109h1v1h-1zM352 108h1v1h-1zM353 107h1v1h-1zM354 106h2v1h-2zM356 107h3v1h-3zM359 108h3v1h-3zM362 109h3v1h-3zM365 110h2v1h-2zM367 111h2v1h-2zM369 112h1v1h-1zM370 113h2v1h-2zM372 114h1v1h-1zM373 115h2v1h-2zM375 116h1v1h-1zM376 117h2v1h-2zM378 118h1v1h-1zM379 119h2v1h-2zM381 120h1v1h-1zM382 121h2v1h-2zM384 122h9v1h-9zM393 121h20v1h-20zM413 120h17v1h-17zM430 121h12v1h-12zM442 122h15v1h-15zM457 123h12v1h-12zM469 124h8v1h-8zM477 125h26v1h-26zM503 124h9v1h-9zM512 123h4v1h-4zM516 122h4v1h-4zM520 121h2v1h-2zM522 120h3v1h-3zM525 119h2v1h-2zM527 118h2v1h-2zM529 117h2v1h-2zM531 116h2v1h-2zM533 115h1v1h-1zM534 114h2v1h-2zM536 113h1v1h-1zM537 112h1v1h-1zM538 111h2v1h-2zM540 110h2v1h-2zM542 109h4v1h-4zM546 108h2v1h-2zM547 109h1v1h-1zM548 110v2h1v-2zM549 112v2h1v-2zM550 114v3h1v-3zM551 117v2h1v-2zM552 119v2h1v-2zM553 121v3h1v-3zM554 124v2h1v-2zM555 126v3h1v-3zM556 129v3h1v-3zM557 132v2h1v-2zM558 134v2h1v-2zM559 136v2h1v-2zM560 138v2h1v-2zM561 140h1v1h-1zM562 141v2h1v-2zM563 143v2h1v-2zM564 145v2h1v-2zM565 147v2h1v-2zM566 149v2h1v-2zM567 151v2h1v-2zM568 153v2h1v-2zM569 155v2h1v-2zM570 157v2h1v-2zM571 159h1v1h-1zM572 160h1v1h-1zM573 161v2h1v-2zM574 163h1v1h-1zM575 164h1v1h-1zM576 165v2h1v-2zM577 167h1v1h-1zM578 168v2h1v-2zM579 170v2h1v-2zM580 172v2h1v-2zM581 174v2h1v-2zM582 176v2h1v-2zM583 178v2h1v-2zM584 180v2h1v-2zM585 182v2h1v-2zM586 184v2h1v-2zM587 186h1v1h-1zM588 187v2h1v-2zM589 189h1v1h-1zM590 190v2h1v-2zM591 192h2v1h-2zM593 193h1v1h-1zM594 194v2h1v-2zM595 196h1v1h-1zM596 197h1v1h-1zM597 198v2h1v-2zM598 200h1v1h-1zM599 201h1v1h-1zM600 202v2h1v-2zM601 204h1v1h-1zM602 205h1v1h-1zM603 206v2h1v-2zM604 208h1v1h-1zM605 209v2h1v-2zM606 211h1v1h-1zM607 212h1v1h-1zM608 213v2h1v-2zM609 215h1v1h-1zM610 216v2h1v-2zM611 218h1v1h-1zM612 219h1v1h-1zM613 220h1v1h-1zM614 221h1v1h-1zM615 222h2v1h-2zM617 223h1v1h-1zM618 224h1v1h-1zM619 225h1v1h-1zM620 226h1v1h-1zM621 227h1v1h-1zM622 228v2h1v-2zM623 230h1v1h-1zM624 231h1v1h-1zM625 232h1v1h-1zM626 233v2h1v-2zM627 235h1v1h-1zM628 236h1v1h-1zM629 237v2h1v-2zM630 239h1v1h-1zM631 240h1v1h-1zM632 241h1v1h-1zM633 242v2h1v-2zM634 244h1v1h-1zM635 245h1v1h-1zM636 246h2v1h-2zM638 247h2v1h-2zM640 248h2v1h-2zM642 249h2v1h-2zM644 250h2v1h-2zM646 251h4v1h-4zM650 252h2v1h-2zM652 253h2v1h-2zM654 254h2v1h-2zM656 255h1v1h-1zM657 256h2v1h-2zM659 257h1v1h-1zM660 258h2v1h-2zM662 259h2v1h-2zM664 260h2v1h-2zM666 261h2v1h-2zM668 262h2v1h-2zM670 261h3v1h-3zM673 260h2v1h-2zM675 259h3v1h-3zM678 258h3v1h-3zM681 257h2v1h-2zM683 256h2v1h-2zM685 255h1v1h-1zM686 254h1v1h-1zM687 253h2v1h-2zM689 252h1v1h-1zM690 251h1v1h-1zM691 250h1v1h-1zM692 249h4v1h-4zM696 248h4v1h-4zM700 249h2v1h-2zM702 250h1v1h-1zM703 251h2v1h-2zM705 252h1v1h-1zM706 253v2h1v-2zM707 255v2h1v-2zM708 257h1v1h-1zM709 258v2h1v-2zM710 260v2h1v-2zM711 262v2h1v-2zM712 264v2h1v-2zM713 266v2h1v-2zM714 268v2h1v-2zM715 270h1v1h-1zM716 271h2v1h-2zM718 272h2v1h-2zM720 273h2v1h-2zM722 274h1v1h-1zM723 275h1v1h-1zM724 276h1v1h-1zM725 277h1v1h-1zM726 278h2v1h-2zM728 279h1v1h-1zM729 280h1v1h-1zM730 281h1v1h-1zM731 282h1v1h-1zM732 283h2v1h-2zM734 284h3v1h-3zM737 285h3v1h-3zM740 286h3v1h-3zM743 287h3v1h-3zM746 288h30v1h-30zM776 287h18v1h-18zM794 288h2v1h-2zM796 289h2v1h-2zM798 290h2v1h-2zM800 291h2v1h-2zM802 292h2v1h-2zM804 293h1v1h-1zM805 294h1v1h-1zM806 295h1v1h-1zM807 296h1v1h-1zM808 297h1v1h-1zM809 298h1v1h-1zM810 299h1v1h-1zM811 300h1v1h-1zM812 301v2h1v-2zM813 303h1v1h-1zM814 304h1v1h-1zM815 305v2h1v-2zM816 307h1v1h-1zM817 308h1v1h-1zM818 309v2h1v-2zM819 311h1v1h-1zM820 312h1v1h-1zM821 313h1v1h-1zM822 314v2h1v-2zM823 316h1v1h-1zM824 317h1v1h-1zM825 318v2h1v-2zM826 320h1v1h-1zM827 321h1v1h-1zM828 322v2h1v-2zM829 324h1v1h-1zM830 325h1v1h-1zM831 326h1v1h-1zM832 327h1v1h-1zM833 328h1v1h-1zM834 329h1v1h-1zM835 330h1v1h-1zM836 331h1v1h-1zM837 332v2h1v-2zM838 334h1v1h-1zM839 335h1v1h-1zM840 336h1v1h-1zM841 337h1v1h-1zM842 338h1v1h-1zM843 339h1v1h-1zM844 340h3v1h-3zM847 339h4v1h-4zM851 338h6v1h-6zM857 339h6v1h-6zM863 338h4v1h-4zM867 337h4v1h-4zM871 336h18v1h-18zM889 337h3v1h-3zM892 338h2v1h-2zM894 339h2v1h-2zM896 340h1v1h-1zM897 341h1v1h-1zM898 342h2v1h-2zM900 343h3v1h-3zM903 344h4v1h-4zM907 345h4v1h-4zM911 346h15v1h-15zM926 345h2v1h-2zM928 344h2v1h-2zM930 343h2v1h-2zM932 342h2v1h-2zM934 341h2v1h-2zM936 340h2v1h-2zM938 339h2v1h-2zM940 338h18v1h-18zM958 339h1v1h-1zM959 340h2v1h-2zM961 341h1v1h-1zM962 342h1v1h-1zM963 343h2v1h-2zM965 344h1v1h-1zM966 345h1v1h-1zM967 346h2v1h-2zM969 347h1v1h-1zM970 348v2h1v-2zM971 350v3h1v-3zM972 353v3h1v-3zM973 356v3h1v-3zM974 359v2h1v-2zM975 361v3h1v-3zM976 364v3h1v-3zM977 367v3h1v-3zM978 370v3h1v-3zM979 373v3h1v-3zM980 376v3h1v-3zM981 379v3h1v-3zM982 382v3h1v-3zM983 385v4h1v-4zM984 389v4h1v-4zM985 393v4h1v-4zM986 397v4h1v-4zM987 401v4h1v-4zM988 405v4h1v-4zM989 409v4h1v-4zM990 413v4h1v-4zM991 417v5h1v-5zM992 422v5h1v-5zM993 427v4h1v-4zM994 431v5h1v-5zM995 436v5h1v-5zM996 441v4h1v-4zM997 445v5h1v-5zM998 450v4h1v-4zM999 454v4h1v-4zM1000 458v4h1v-4zM1001 462v4h1v-4zM1002 466v3h1v-3zM1003 469v3h1v-3zM1004 472v4h1v-4zM1005 476v3h1v-3zM1006 479v3h1v-3zM1007 482v4h1v-4zM1008 486v3h1v-3zM1009 489v3h1v-3zM1010 492v2h1v-2zM1011 494v2h1v-2zM1012 496v3h1v-3zM1013 499v2h1v-2zM1014 501v2h1v-2zM1015 503v2h1v-2zM1016 505v3h1v-3zM1017 508v2h1v-2zM1018 510v2h1v-2zM1019 512v2h1v-2zM1020 514h2v1h-2zM1022 515h1v1h-1zM1023 516h2v1h-2zM1025 517h1v1h-1zM1026 518h2v1h-2zM1028 519h3v1h-3zM1031 520h4v1h-4zM1035 521h3v1h-3zM1038 522h3v1h-3zM1041 523h3v1h-3zM1044 524h2v1h-2zM1046 525h2v1h-2zM1048 526h1v1h-1zM1049 527h1v1h-1zM1050 528h2v1h-2zM1052 529h1v1h-1zM1053 530v2h1v-2zM1054 532v2h1v-2zM1055 534v2h1v-2zM1056 536v3h1v-3zM1057 539v2h1v-2zM1058 541v2h1v-2zM1059 543v3h1v-3zM1060 546v2h1v-2zM1061 548v2h1v-2zM1062 550v2h1v-2zM1063 552v2h1v-2zM1064 554h1v1h-1zM1065 555h1v1h-1zM1066 556v2h1v-2zM1067 558h1v1h-1zM1068 559h1v1h-1zM1069 560h2v1h-2zM1071 561h1v1h-1zM1072 562h1v1h-1zM1073 563h2v1h-2zM1075 564h1v1h-1zM1076 565h8v1h-8zM1084 564h1v1h-1zM1085 563h2v1h-2zM1087 562h1v1h-1zM1088 561h1v1h-1zM1089 560h2v1h-2zM1091 559h1v1h-1zM1092 558h1v1h-1zM1093 557h2v1h-2zM1095 556h1v1h-1zM1096 555h1v1h-1zM1097 554h1v1h-1zM1098 553h2v1h-2zM1100 552h1v1h-1zM1101 551h1v1h-1zM1102 550h1v1h-1zM1103 549h1v1h-1zM1104 548h2v1h-2zM1106 547h1v1h-1zM1107 546h1v1h-1zM1108 545h1v1h-1zM1109 544h1v1h-1zM1110 543h1v1h-1zM1111 542h2v1h-2zM1113 541h1v1h-1zM1114 540h1v1h-1zM1115 539h1v1h-1zM1116 538h1v1h-1zM1117 537h2v1h-2zM1119 536h2v1h-2zM1121 535h2v1h-2zM1123 534h11v1h-11zM1134 535h2v1h-2zM1136 536h1v1h-1zM1137 537h1v1h-1zM1138 538h2v1h-2zM1140 539h1v1h-1zM1141 540v2h1v-2zM1142 542v2h1v-2zM1143 544v2h1v-2zM1144 546v2h1v-2zM1145 548h1v1h-1zM1146 549h2v1h-2zM1148 550h1v1h-1zM1149 551h2v1h-2zM1151 552h2v1h-2zM1153 553h4v1h-4zM1157 554h4v1h-4zM1161 553h4v1h-4zM1165 552h2v1h-2zM1167 551h1v1h-1zM1168 550h2v1h-2zM1170 549h1v1h-1zM1171 548h1v1h-1zM1172 547h1v1h-1zM1173 546h1v1h-1zM1174 545h2v1h-2zM1176 544h1v1h-1zM1177 543h2v1h-2zM1179 542h2v1h-2zM1181 541h3v1h-3zM1184 540h2v1h-2zM1186 539h14v1h-14zM1200 538h4v1h-4zM1204 537h2v1h-2zM1206 536h1v1h-1zM1207 535h1v1h-1zM1208 534h2v1h-2zM1210 533h1v1h-1zM1211 531v2h1v-2zM1212 529v2h1v-2zM1213 527v2h1v-2zM1214 524v3h1v-3zM1215 522v2h1v-2zM1216 519v3h1v-3zM1217 517v2h1v-2zM1218 515v2h1v-2zM1219 512v3h1v-3zM1220 509v3h1v-3zM1221 506v3h1v-3zM1222 502v4h1v-4zM1223 499v3h1v-3zM1224 496v3h1v-3zM1225 493v3h1v-3zM1226 490v3h1v-3zM1227 487v3h1v-3zM1228 484v3h1v-3zM1229 481v3h1v-3zM1230 478v3h1v-3zM1231 475v3h1v-3zM1232 472v3h1v-3zM1233 469v3h1v-3zM1234 466v3h1v-3zM1235 462v4h1v-4zM1236 459v3h1v-3zM1237 455v4h1v-4zM1238 452v3h1v-3zM1239 449v3h1v-3zM1240 445v4h1v-4zM1241 442v3h1v-3zM1242 438v4h1v-4zM1243 434v4h1v-4zM1244 431v3h1v-3zM1245 427v4h1v-4zM1246 424v3h1v-3zM1247 420v4h1v-4zM1248 416v4h1v-4zM1249 414v2h1v-2zM1250 412v2h1v-2zM1251 411h1v1h-1zM1252 410h1v1h-1zM1253 408v2h1v-2zM1254 407h1v1h-1zM1255 405v2h1v-2zM1256 404h1v1h-1zM1257 403h1v1h-1zM1258 401v2h1v-2zM1259 399v2h1v-2zM1260 397v2h1v-2zM1261 394v3h1v-3zM1262 392v2h1v-2zM1263 389v3h1v-3zM1264 386v3h1v-3zM1265 384v2h1v-2zM1266 381v3h1v-3zM1267 379v2h1v-2zM1268 376v3h1v-3zM1269 374v2h1v-2zM1270 371v3h1v-3zM1271 369v2h1v-2zM1272 367v2h1v-2zM1273 365v2h1v-2zM1274 363v2h1v-2zM1275 361v2h1v-2zM1276 359v2h1v-2zM1277 357v2h1v-2zM1278 354v3h1v-3zM1279 352v2h1v-2zM1280 350v2h1v-2zM1281 348v2h1v-2zM1282 346v2h1v-2zM1283 344v2h1v-2zM1284 342v2h1v-2zM1285 340v2h1v-2zM1286 339h1v1h-1zM1287 337v2h1v-2zM1288 336h1v1h-1zM1289 334v2h1v-2zM1290 333h1v1h-1zM1291 331v2h1v-2zM1292 330h1v1h-1zM1293 331h1v1h-1zM1294 332h1v1h-1zM1295 333h1v1h-1zM1296 334v2h1v-2zM1297 336v2h1v-2zM1298 338v2h1v-2zM1299 340v2h1v-2zM1300 342v2h1v-2zM1301 344v2h1v-2zM1302 346v2h1v-2zM1303 348v3h1v-3zM1304 351v3h1v-3zM1305 354v2h1v-2zM1306 356v3h1v-3zM1307 359v3h1v-3zM1308 362v3h1v-3zM1309 365v2h1v-2zM1310 367v3h1v-3zM1311 370v2h1v-2zM1312 372v2h1v-2zM1313 374h1v1h-1zM1314 375h1v1h-1zM1315 376v2h1v-2zM1316 378h1v1h-1zM1317 379h1v1h-1zM1318 380v2h1v-2zM1319 382h1v1h-1zM1320 383h1v1h-1zM1321 384v2h1v-2zM1322 386h1v1h-1zM1323 387h1v1h-1zM1324 388v2h1v-2zM1325 390h1v1h-1zM1326 391h1v1h-1zM1327 392h1v1h-1zM1328 393h1v1h-1zM1329 394h2v1h-2zM1331 395h1v1h-1zM1332 396h1v1h-1zM1333 397h1v1h-1zM1334 398h1v1h-1zM1335 399h1v1h-1zM1336 400h2v1h-2zM1338 401h1v1h-1zM1339 402h1v1h-1zM1340 403h2v1h-2zM1342 404h2v1h-2zM1344 405h2v1h-2zM1346 406h1v1h-1zM1347 407h1v1h-1zM1348 408h1v1h-1zM1349 409v2h1v-2zM1350 411h1v1h-1zM1351 412h1v1h-1zM1352 413h1v1h-1zM1353 414h1v1h-1zM1354 415h1v1h-1zM1355 416h2v1h-2zM1357 417h1v1h-1zM1358 418h1v1h-1zM1359 419h1v1h-1zM1360 420h2v1h-2zM1362 421h1v1h-1zM1363 422h3v1h-3zM1366 423h4v1h-4zM1370 424h16v1h-16zM1386 425h2v1h-2zM1388 426v2h1v-2zM1389 428v4h1v-4zM1390 432v3h1v-3zM1391 435v4h1v-4zM1392 439v3h1v-3zM1393 442v3h1v-3zM1394 445v3h1v-3zM1395 448v4h1v-4zM1396 452v3h1v-3zM1397 455v3h1v-3zM1398 458v4h1v-4zM1399 462v4h1v-4zM1400 466v4h1v-4zM1401 470v3h1v-3zM1402 473v4h1v-4zM1403 477v4h1v-4zM1404 481v4h1v-4zM1405 485v4h1v-4zM1406 489v4h1v-4zM1407 493v4h1v-4zM1408 497v3h1v-3zM1409 500v2h1v-2zM1410 502v2h1v-2zM1411 504v3h1v-3zM1412 507v2h1v-2zM1413 509v2h1v-2zM1414 511v2h1v-2zM1415 513v3h1v-3zM1416 516v2h1v-2zM1417 518v2h1v-2zM1418 520v2h1v-2zM1419 522v2h1v-2zM1420 524h1v1h-1z" fill="#3cb371" shape-rendering="crispEdges"/>
<g shape-rendering="crispEdges" fill="#ff0000">
<rect x="1002" y="581" width="10" height="1"/>
<rect x="1066" y="540" width="10" height="1"/>
<rect x="1242" y="202" width="10" height="1"/>
<rect x="1268" y="490" width="8" height="1"/>
<rect x="1404" y="526" width="8" height="1"/>
</g>
<rect x="1275.5" y="488.5" width="3" height="3" fill="#fff" stroke="#f00" stroke-width="1" shape-rendering="crispEdges"/>
<rect x="1402.5" y="524.5" width="2" height="3" fill="#fff" stroke="#f00" stroke-width="1" shape-rendering="crispEdges"/>
<rect x="940.5" y="572.5" width="61.0" height="18.0" fill="#fff" stroke="#ff0000" stroke-width="1" shape-rendering="crispEdges"/>
<text x="942.5" y="587.7" font-size="16" fill="#ff0000" textLength="58.0" lengthAdjust="spacingAndGlyphs" >33475.1</text>
<rect x="1004.5" y="531.5" width="61.0" height="18.0" fill="#fff" stroke="#ff0000" stroke-width="1" shape-rendering="crispEdges"/>
<text x="1006.5" y="546.7" font-size="16" fill="#ff0000" textLength="58.0" lengthAdjust="spacingAndGlyphs" >33632.3</text>
<rect x="1180.5" y="193.5" width="61.0" height="18.0" fill="#fff" stroke="#ff0000" stroke-width="1" shape-rendering="crispEdges"/>
<text x="1182.5" y="208.7" font-size="16" fill="#ff0000" textLength="58.0" lengthAdjust="spacingAndGlyphs" >34933.4</text>
<rect x="1278.5" y="478.5" width="73.0" height="24.0" fill="#fff" stroke="#ff0000" stroke-width="1" shape-rendering="crispEdges"/>
<text x="1280.3" y="498.3" font-size="20" fill="#ff0000" textLength="70.0" lengthAdjust="spacingAndGlyphs" >33825.2</text>
<rect x="1340.5" y="517.5" width="61.0" height="18.0" fill="#fff" stroke="#ff0000" stroke-width="1" shape-rendering="crispEdges"/>
<text x="1342.5" y="532.7" font-size="16" fill="#ff0000" textLength="58.0" lengthAdjust="spacingAndGlyphs" >33686.7</text>
<g shape-rendering="crispEdges">
<rect x="3" y="125" width="1" height="30" fill="#000"/>
<rect x="1" y="129" width="5" height="18" fill="#000"/>
<rect x="2" y="130" width="3" height="16" fill="#fff"/>
<rect x="11" y="80" width="1" height="54" fill="#000"/>
<rect x="9" y="85" width="5" height="45" fill="#000"/>
<rect x="10" y="86" width="3" height="43" fill="#fff"/>
<rect x="19" y="85" width="1" height="30" fill="#000"/>
<rect x="17" y="90" width="5" height="23" fill="#000"/>
<rect x="27" y="90" width="1" height="23" fill="#000"/>
<rect x="25" y="95" width="5" height="16" fill="#000"/>
<rect x="26" y="96" width="3" height="14" fill="#fff"/>
<rect x="35" y="80" width="1" height="22" fill="#000"/>
<rect x="33" y="85" width="5" height="15" fill="#000"/>
<rect x="43" y="80" width="1" height="22" fill="#000"/>
<rect x="41" y="85" width="5" height="15" fill="#000"/>
<rect x="42" y="86" width="3" height="13" fill="#fff"/>
<rect x="51" y="80" width="1" height="31" fill="#000"/>
<rect x="49" y="85" width="5" height="15" fill="#000"/>
<rect x="50" y="86" width="3" height="13" fill="#fff"/>
<rect x="59" y="80" width="1" height="30" fill="#000"/>
<rect x="57" y="85" width="5" height="15" fill="#000"/>
<rect x="58" y="86" width="3" height="13" fill="#fff"/>
<rect x="67" y="80" width="1" height="27" fill="#000"/>
<rect x="65" y="85" width="5" height="15" fill="#000"/>
<rect x="66" y="86" width="3" height="13" fill="#fff"/>
<rect x="75" y="80" width="1" height="28" fill="#000"/>
<rect x="73" y="85" width="5" height="15" fill="#000"/>
<rect x="74" y="86" width="3" height="13" fill="#fff"/>
<rect x="83" y="80" width="1" height="41" fill="#000"/>
<rect x="81" y="85" width="5" height="31" fill="#000"/>
<rect x="91" y="80" width="1" height="40" fill="#000"/>
<rect x="89" y="85" width="5" height="31" fill="#000"/>
<rect x="90" y="86" width="3" height="29" fill="#fff"/>
<rect x="99" y="80" width="1" height="30" fill="#000"/>
<rect x="97" y="85" width="5" height="15" fill="#000"/>
<rect x="98" y="86" width="3" height="13" fill="#fff"/>
<rect x="107" y="80" width="1" height="47" fill="#000"/>
<rect x="105" y="85" width="5" height="15" fill="#000"/>
<rect x="106" y="86" width="3" height="13" fill="#fff"/>
<rect x="115" y="80" width="1" height="22" fill="#000"/>
<rect x="113" y="85" width="5" height="15" fill="#000"/>
<rect x="114" y="86" width="3" height="13" fill="#fff"/>
<rect x="123" y="80" width="1" height="22" fill="#000"/>
<rect x="121" y="85" width="5" height="15" fill="#000"/>
<rect x="122" y="86" width="3" height="13" fill="#fff"/>
<rect x="131" y="80" width="1" height="28" fill="#000"/>
<rect x="129" y="85" width="5" height="15" fill="#000"/>
<rect x="130" y="86" width="3" height="13" fill="#fff"/>
<rect x="139" y="80" width="1" height="32" fill="#000"/>
<rect x="137" y="85" width="5" height="15" fill="#000"/>
<rect x="138" y="86" width="3" height="13" fill="#fff"/>
<rect x="147" y="80" width="1" height="22" fill="#000"/>
<rect x="145" y="85" width="5" height="15" fill="#000"/>
<rect x="146" y="86" width="3" height="13" fill="#fff"/>
<rect x="155" y="80" width="1" height="51" fill="#000"/>
<rect x="153" y="85" width="5" height="29" fill="#000"/>
<rect x="163" y="100" width="1" height="48" fill="#000"/>
<rect x="161" y="113" width="5" height="33" fill="#000"/>
<rect x="171" y="134" width="1" height="16" fill="#000"/>
<rect x="169" y="145" width="5" height="2" fill="#000"/>
<rect x="179" y="122" width="1" height="35" fill="#000"/>
<rect x="177" y="131" width="5" height="16" fill="#000"/>
<rect x="178" y="132" width="3" height="14" fill="#fff"/>
<rect x="187" y="108" width="1" height="27" fill="#000"/>
<rect x="185" y="117" width="5" height="14" fill="#000"/>
<rect x="186" y="118" width="3" height="12" fill="#fff"/>
<rect x="195" y="115" width="1" height="20" fill="#000"/>
<rect x="193" y="116" width="5" height="13" fill="#000"/>
<rect x="203" y="95" width="1" height="38" fill="#000"/>
<rect x="201" y="100" width="5" height="28" fill="#000"/>
<rect x="202" y="101" width="3" height="26" fill="#fff"/>
<rect x="211" y="80" width="1" height="22" fill="#000"/>
<rect x="209" y="85" width="5" height="15" fill="#000"/>
<rect x="210" y="86" width="3" height="13" fill="#fff"/>
<rect x="219" y="79" width="1" height="8" fill="#000"/>
<rect x="217" y="79" width="5" height="8" fill="#000"/>
<rect x="227" y="65" width="1" height="14" fill="#000"/>
<rect x="225" y="71" width="5" height="5" fill="#000"/>
<rect x="226" y="72" width="3" height="3" fill="#fff"/>
<rect x="235" y="68" width="1" height="24" fill="#000"/>
<rect x="233" y="71" width="5" height="4" fill="#000"/>
<rect x="243" y="73" width="1" height="9" fill="#000"/>
<rect x="241" y="74" width="5" height="3" fill="#000"/>
<rect x="251" y="73" width="1" height="8" fill="#000"/>
<rect x="249" y="75" width="5" height="1" fill="#000"/>
<rect x="259" y="66" width="1" height="35" fill="#000"/>
<rect x="257" y="70" width="5" height="6" fill="#000"/>
<rect x="258" y="71" width="3" height="4" fill="#fff"/>
<rect x="267" y="68" width="1" height="28" fill="#000"/>
<rect x="265" y="70" width="5" height="26" fill="#000"/>
<rect x="275" y="82" width="1" height="15" fill="#000"/>
<rect x="273" y="91" width="5" height="4" fill="#000"/>
<rect x="274" y="92" width="3" height="2" fill="#fff"/>
<rect x="283" y="80" width="1" height="16" fill="#000"/>
<rect x="281" y="83" width="5" height="8" fill="#000"/>
<rect x="282" y="84" width="3" height="6" fill="#fff"/>
<rect x="291" y="60" width="1" height="24" fill="#000"/>
<rect x="289" y="73" width="5" height="9" fill="#000"/>
<rect x="290" y="74" width="3" height="7" fill="#fff"/>
<rect x="299" y="72" width="1" height="30" fill="#000"/>
<rect x="297" y="73" width="5" height="28" fill="#000"/>
<rect x="307" y="76" width="1" height="44" fill="#000"/>
<rect x="305" y="80" width="5" height="20" fill="#000"/>
<rect x="306" y="81" width="3" height="18" fill="#fff"/>
<rect x="315" y="76" width="1" height="34" fill="#000"/>
<rect x="313" y="81" width="5" height="17" fill="#000"/>
<rect x="323" y="82" width="1" height="18" fill="#000"/>
<rect x="321" y="82" width="5" height="16" fill="#000"/>
<rect x="322" y="83" width="3" height="14" fill="#fff"/>
<rect x="331" y="69" width="1" height="21" fill="#000"/>
<rect x="329" y="74" width="5" height="8" fill="#000"/>
<rect x="330" y="75" width="3" height="6" fill="#fff"/>
<rect x="339" y="58" width="1" height="19" fill="#000"/>
<rect x="337" y="60" width="5" height="15" fill="#000"/>
<rect x="338" y="61" width="3" height="13" fill="#fff"/>
<rect x="347" y="58" width="1" height="17" fill="#000"/>
<rect x="345" y="60" width="5" height="8" fill="#000"/>
<rect x="355" y="64" width="1" height="53" fill="#000"/>
<rect x="353" y="67" width="5" height="39" fill="#000"/>
<rect x="363" y="88" width="1" height="27" fill="#000"/>
<rect x="361" y="105" width="5" height="5" fill="#000"/>
<rect x="371" y="106" width="1" height="9" fill="#000"/>
<rect x="369" y="109" width="5" height="2" fill="#000"/>
<rect x="379" y="105" width="1" height="25" fill="#000"/>
<rect x="377" y="111" width="5" height="12" fill="#000"/>
<rect x="387" y="98" width="1" height="24" fill="#000"/>
<rect x="385" y="98" width="5" height="24" fill="#000"/>
<rect x="386" y="99" width="3" height="22" fill="#fff"/>
<rect x="395" y="90" width="1" height="11" fill="#000"/>
<rect x="393" y="95" width="5" height="5" fill="#000"/>
<rect x="394" y="96" width="3" height="3" fill="#fff"/>
<rect x="403" y="66" width="1" height="31" fill="#000"/>
<rect x="401" y="69" width="5" height="27" fill="#000"/>
<rect x="402" y="70" width="3" height="25" fill="#fff"/>
<rect x="411" y="68" width="1" height="32" fill="#000"/>
<rect x="409" y="70" width="5" height="5" fill="#000"/>
<rect x="419" y="71" width="1" height="10" fill="#000"/>
<rect x="417" y="75" width="5" height="4" fill="#000"/>
<rect x="427" y="55" width="1" height="25" fill="#000"/>
<rect x="425" y="61" width="5" height="17" fill="#000"/>
<rect x="426" y="62" width="3" height="15" fill="#fff"/>
<rect x="435" y="55" width="1" height="19" fill="#000"/>
<rect x="433" y="61" width="5" height="2" fill="#000"/>
<rect x="443" y="58" width="1" height="11" fill="#000"/>
<rect x="441" y="62" width="5" height="6" fill="#000"/>
<rect x="451" y="60" width="1" height="62" fill="#000"/>
<rect x="449" y="67" width="5" height="35" fill="#000"/>
<rect x="459" y="81" width="1" height="24" fill="#000"/>
<rect x="457" y="94" width="5" height="8" fill="#000"/>
<rect x="458" y="95" width="3" height="6" fill="#fff"/>
<rect x="467" y="94" width="1" height="6" fill="#000"/>
<rect x="465" y="95" width="5" height="4" fill="#000"/>
<rect x="475" y="102" width="1" height="8" fill="#000"/>
<rect x="473" y="103" width="5" height="6" fill="#000"/>
<rect x="483" y="94" width="1" height="24" fill="#000"/>
<rect x="481" y="95" width="5" height="14" fill="#000"/>
<rect x="482" y="96" width="3" height="12" fill="#fff"/>
<rect x="491" y="75" width="1" height="25" fill="#000"/>
<rect x="489" y="80" width="5" height="15" fill="#000"/>
<rect x="490" y="81" width="3" height="13" fill="#fff"/>
<rect x="499" y="70" width="1" height="10" fill="#000"/>
<rect x="497" y="75" width="5" height="5" fill="#000"/>
<rect x="498" y="76" width="3" height="3" fill="#fff"/>
<rect x="507" y="62" width="1" height="14" fill="#000"/>
<rect x="505" y="74" width="5" height="2" fill="#000"/>
<rect x="515" y="70" width="1" height="8" fill="#000"/>
<rect x="513" y="72" width="5" height="3" fill="#000"/>
<rect x="514" y="73" width="3" height="1" fill="#fff"/>
<rect x="523" y="73" width="1" height="15" fill="#000"/>
<rect x="521" y="75" width="5" height="12" fill="#000"/>
<rect x="531" y="77" width="1" height="13" fill="#000"/>
<rect x="529" y="81" width="5" height="6" fill="#000"/>
<rect x="530" y="82" width="3" height="4" fill="#fff"/>
<rect x="539" y="78" width="1" height="17" fill="#000"/>
<rect x="537" y="81" width="5" height="5" fill="#000"/>
<rect x="547" y="81" width="1" height="23" fill="#000"/>
<rect x="545" y="85" width="5" height="1" fill="#000"/>
<rect x="555" y="83" width="1" height="93" fill="#000"/>
<rect x="553" y="85" width="5" height="80" fill="#000"/>
<rect x="563" y="135" width="1" height="34" fill="#000"/>
<rect x="561" y="163" width="5" height="3" fill="#000"/>
<rect x="562" y="164" width="3" height="1" fill="#fff"/>
<rect x="571" y="162" width="1" height="16" fill="#000"/>
<rect x="569" y="163" width="5" height="13" fill="#000"/>
<rect x="579" y="150" width="1" height="27" fill="#000"/>
<rect x="577" y="164" width="5" height="12" fill="#000"/>
<rect x="578" y="165" width="3" height="10" fill="#fff"/>
<rect x="587" y="152" width="1" height="58" fill="#000"/>
<rect x="585" y="164" width="5" height="38" fill="#000"/>
<rect x="595" y="157" width="1" height="60" fill="#000"/>
<rect x="593" y="169" width="5" height="33" fill="#000"/>
<rect x="594" y="170" width="3" height="31" fill="#fff"/>
<rect x="603" y="144" width="1" height="67" fill="#000"/>
<rect x="601" y="169" width="5" height="36" fill="#000"/>
<rect x="611" y="175" width="1" height="33" fill="#000"/>
<rect x="609" y="182" width="5" height="23" fill="#000"/>
<rect x="610" y="183" width="3" height="21" fill="#fff"/>
<rect x="619" y="182" width="1" height="11" fill="#000"/>
<rect x="617" y="183" width="5" height="8" fill="#000"/>
<rect x="627" y="185" width="1" height="29" fill="#000"/>
<rect x="625" y="190" width="5" height="19" fill="#000"/>
<rect x="635" y="206" width="1" height="39" fill="#000"/>
<rect x="633" y="207" width="5" height="8" fill="#000"/>
<rect x="643" y="186" width="1" height="29" fill="#000"/>
<rect x="641" y="186" width="5" height="28" fill="#000"/>
<rect x="642" y="187" width="3" height="26" fill="#fff"/>
<rect x="651" y="136" width="1" height="61" fill="#000"/>
<rect x="649" y="171" width="5" height="15" fill="#000"/>
<rect x="650" y="172" width="3" height="13" fill="#fff"/>
<rect x="659" y="170" width="1" height="60" fill="#000"/>
<rect x="657" y="171" width="5" height="49" fill="#000"/>
<rect x="667" y="213" width="1" height="18" fill="#000"/>
<rect x="665" y="219" width="5" height="4" fill="#000"/>
<rect x="675" y="193" width="1" height="33" fill="#000"/>
<rect x="673" y="196" width="5" height="26" fill="#000"/>
<rect x="674" y="197" width="3" height="24" fill="#fff"/>
<rect x="683" y="174" width="1" height="25" fill="#000"/>
<rect x="681" y="175" width="5" height="23" fill="#000"/>
<rect x="682" y="176" width="3" height="21" fill="#fff"/>
<rect x="691" y="164" width="1" height="16" fill="#000"/>
<rect x="689" y="175" width="5" height="2" fill="#000"/>
<rect x="699" y="157" width="1" height="106" fill="#000"/>
<rect x="697" y="175" width="5" height="65" fill="#000"/>
<rect x="707" y="211" width="1" height="80" fill="#000"/>
<rect x="705" y="238" width="5" height="50" fill="#000"/>
<rect x="715" y="278" width="1" height="12" fill="#000"/>
<rect x="713" y="280" width="5" height="7" fill="#000"/>
<rect x="714" y="281" width="3" height="5" fill="#fff"/>
<rect x="723" y="250" width="1" height="17" fill="#000"/>
<rect x="721" y="253" width="5" height="9" fill="#000"/>
<rect x="722" y="254" width="3" height="7" fill="#fff"/>
<rect x="731" y="249" width="1" height="27" fill="#000"/>
<rect x="729" y="252" width="5" height="16" fill="#000"/>
<rect x="739" y="239" width="1" height="51" fill="#000"/>
<rect x="737" y="248" width="5" height="20" fill="#000"/>
<rect x="738" y="249" width="3" height="18" fill="#fff"/>
<rect x="747" y="227" width="1" height="29" fill="#000"/>
<rect x="745" y="237" width="5" height="9" fill="#000"/>
<rect x="746" y="238" width="3" height="7" fill="#fff"/>
<rect x="755" y="203" width="1" height="43" fill="#000"/>
<rect x="753" y="229" width="5" height="7" fill="#000"/>
<rect x="754" y="230" width="3" height="5" fill="#fff"/>
<rect x="763" y="218" width="1" height="50" fill="#000"/>
<rect x="761" y="220" width="5" height="9" fill="#000"/>
<rect x="762" y="221" width="3" height="7" fill="#fff"/>
<rect x="771" y="200" width="1" height="23" fill="#000"/>
<rect x="769" y="206" width="5" height="13" fill="#000"/>
<rect x="770" y="207" width="3" height="11" fill="#fff"/>
<rect x="779" y="195" width="1" height="19" fill="#000"/>
<rect x="777" y="200" width="5" height="8" fill="#000"/>
<rect x="778" y="201" width="3" height="6" fill="#fff"/>
<rect x="787" y="197" width="1" height="36" fill="#000"/>
<rect x="785" y="200" width="5" height="14" fill="#000"/>
<rect x="795" y="202" width="1" height="40" fill="#000"/>
<rect x="793" y="213" width="5" height="19" fill="#000"/>
<rect x="803" y="180" width="1" height="100" fill="#000"/>
<rect x="801" y="231" width="5" height="34" fill="#000"/>
<rect x="811" y="255" width="1" height="59" fill="#000"/>
<rect x="809" y="265" width="5" height="28" fill="#000"/>
<rect x="819" y="287" width="1" height="37" fill="#000"/>
<rect x="817" y="292" width="5" height="21" fill="#000"/>
<rect x="827" y="302" width="1" height="28" fill="#000"/>
<rect x="825" y="310" width="5" height="3" fill="#000"/>
<rect x="826" y="311" width="3" height="1" fill="#fff"/>
<rect x="835" y="301" width="1" height="23" fill="#000"/>
<rect x="833" y="310" width="5" height="7" fill="#000"/>
<rect x="843" y="301" width="1" height="35" fill="#000"/>
<rect x="841" y="317" width="5" height="11" fill="#000"/>
<rect x="851" y="290" width="1" height="58" fill="#000"/>
<rect x="849" y="296" width="5" height="31" fill="#000"/>
<rect x="850" y="297" width="3" height="29" fill="#fff"/>
<rect x="859" y="247" width="1" height="58" fill="#000"/>
<rect x="857" y="262" width="5" height="35" fill="#000"/>
<rect x="858" y="263" width="3" height="33" fill="#fff"/>
<rect x="867" y="252" width="1" height="15" fill="#000"/>
<rect x="865" y="257" width="5" height="5" fill="#000"/>
<rect x="866" y="258" width="3" height="3" fill="#fff"/>
<rect x="875" y="253" width="1" height="21" fill="#000"/>
<rect x="873" y="258" width="5" height="15" fill="#000"/>
<rect x="883" y="258" width="1" height="19" fill="#000"/>
<rect x="881" y="265" width="5" height="8" fill="#000"/>
<rect x="882" y="266" width="3" height="6" fill="#fff"/>
<rect x="891" y="259" width="1" height="18" fill="#000"/>
<rect x="889" y="265" width="5" height="10" fill="#000"/>
<rect x="899" y="231" width="1" height="107" fill="#000"/>
<rect x="897" y="274" width="5" height="39" fill="#000"/>
<rect x="907" y="256" width="1" height="64" fill="#000"/>
<rect x="905" y="283" width="5" height="30" fill="#000"/>
<rect x="906" y="284" width="3" height="28" fill="#fff"/>
<rect x="915" y="280" width="1" height="19" fill="#000"/>
<rect x="913" y="282" width="5" height="12" fill="#000"/>
<rect x="923" y="277" width="1" height="26" fill="#000"/>
<rect x="921" y="282" width="5" height="13" fill="#000"/>
<rect x="922" y="283" width="3" height="11" fill="#fff"/>
<rect x="931" y="261" width="1" height="23" fill="#000"/>
<rect x="929" y="273" width="5" height="10" fill="#000"/>
<rect x="930" y="274" width="3" height="8" fill="#fff"/>
<rect x="939" y="272" width="1" height="41" fill="#000"/>
<rect x="937" y="273" width="5" height="28" fill="#000"/>
<rect x="947" y="276" width="1" height="70" fill="#000"/>
<rect x="945" y="299" width="5" height="32" fill="#000"/>
<rect x="955" y="307" width="1" height="38" fill="#000"/>
<rect x="953" y="328" width="5" height="3" fill="#000"/>
<rect x="954" y="329" width="3" height="1" fill="#fff"/>
<rect x="963" y="328" width="1" height="19" fill="#000"/>
<rect x="961" y="328" width="5" height="10" fill="#000"/>
<rect x="971" y="344" width="1" height="17" fill="#000"/>
<rect x="969" y="346" width="5" height="4" fill="#000"/>
<rect x="970" y="347" width="3" height="2" fill="#fff"/>
<rect x="979" y="342" width="1" height="86" fill="#000"/>
<rect x="977" y="346" width="5" height="64" fill="#000"/>
<rect x="987" y="400" width="1" height="55" fill="#000"/>
<rect x="985" y="408" width="5" height="40" fill="#000"/>
<rect x="995" y="436" width="1" height="58" fill="#000"/>
<rect x="993" y="446" width="5" height="44" fill="#000"/>
<rect x="1003" y="421" width="1" height="87" fill="#000"/>
<rect x="1001" y="489" width="5" height="2" fill="#000"/>
<rect x="1011" y="482" width="1" height="100" fill="#000"/>
<rect x="1009" y="490" width="5" height="2" fill="#000"/>
<rect x="1019" y="465" width="1" height="48" fill="#000"/>
<rect x="1017" y="466" width="5" height="26" fill="#000"/>
<rect x="1018" y="467" width="3" height="24" fill="#fff"/>
<rect x="1027" y="423" width="1" height="51" fill="#000"/>
<rect x="1025" y="425" width="5" height="41" fill="#000"/>
<rect x="1026" y="426" width="3" height="39" fill="#fff"/>
<rect x="1035" y="389" width="1" height="61" fill="#000"/>
<rect x="1033" y="390" width="5" height="36" fill="#000"/>
<rect x="1034" y="391" width="3" height="34" fill="#fff"/>
<rect x="1043" y="384" width="1" height="45" fill="#000"/>
<rect x="1041" y="391" width="5" height="26" fill="#000"/>
<rect x="1051" y="397" width="1" height="105" fill="#000"/>
<rect x="1049" y="416" width="5" height="32" fill="#000"/>
<rect x="1059" y="422" width="1" height="80" fill="#000"/>
<rect x="1057" y="448" width="5" height="54" fill="#000"/>
<rect x="1067" y="496" width="1" height="26" fill="#000"/>
<rect x="1065" y="498" width="5" height="22" fill="#000"/>
<rect x="1075" y="459" width="1" height="81" fill="#000"/>
<rect x="1073" y="489" width="5" height="32" fill="#000"/>
<rect x="1074" y="490" width="3" height="30" fill="#fff"/>
<rect x="1083" y="433" width="1" height="57" fill="#000"/>
<rect x="1081" y="466" width="5" height="24" fill="#000"/>
<rect x="1082" y="467" width="3" height="22" fill="#fff"/>
<rect x="1091" y="436" width="1" height="34" fill="#000"/>
<rect x="1089" y="450" width="5" height="16" fill="#000"/>
<rect x="1090" y="451" width="3" height="14" fill="#fff"/>
<rect x="1099" y="369" width="1" height="96" fill="#000"/>
<rect x="1097" y="382" width="5" height="69" fill="#000"/>
<rect x="1098" y="383" width="3" height="67" fill="#fff"/>
<rect x="1107" y="363" width="1" height="66" fill="#000"/>
<rect x="1105" y="382" width="5" height="29" fill="#000"/>
<rect x="1115" y="390" width="1" height="25" fill="#000"/>
<rect x="1113" y="391" width="5" height="21" fill="#000"/>
<rect x="1114" y="392" width="3" height="19" fill="#fff"/>
<rect x="1123" y="376" width="1" height="20" fill="#000"/>
<rect x="1121" y="385" width="5" height="7" fill="#000"/>
<rect x="1122" y="386" width="3" height="5" fill="#fff"/>
<rect x="1131" y="349" width="1" height="41" fill="#000"/>
<rect x="1129" y="350" width="5" height="35" fill="#000"/>
<rect x="1130" y="351" width="3" height="33" fill="#fff"/>
<rect x="1139" y="333" width="1" height="51" fill="#000"/>
<rect x="1137" y="350" width="5" height="9" fill="#000"/>
<rect x="1147" y="268" width="1" height="102" fill="#000"/>
<rect x="1145" y="272" width="5" height="86" fill="#000"/>
<rect x="1146" y="273" width="3" height="84" fill="#fff"/>
<rect x="1155" y="251" width="1" height="32" fill="#000"/>
<rect x="1153" y="273" width="5" height="9" fill="#000"/>
<rect x="1163" y="268" width="1" height="15" fill="#000"/>
<rect x="1161" y="278" width="5" height="2" fill="#000"/>
<rect x="1171" y="255" width="1" height="34" fill="#000"/>
<rect x="1169" y="273" width="5" height="5" fill="#000"/>
<rect x="1170" y="274" width="3" height="3" fill="#fff"/>
<rect x="1179" y="273" width="1" height="38" fill="#000"/>
<rect x="1177" y="273" width="5" height="34" fill="#000"/>
<rect x="1187" y="287" width="1" height="29" fill="#000"/>
<rect x="1185" y="306" width="5" height="10" fill="#000"/>
<rect x="1195" y="257" width="1" height="69" fill="#000"/>
<rect x="1193" y="280" width="5" height="35" fill="#000"/>
<rect x="1194" y="281" width="3" height="33" fill="#fff"/>
<rect x="1203" y="257" width="1" height="32" fill="#000"/>
<rect x="1201" y="272" width="5" height="8" fill="#000"/>
<rect x="1202" y="273" width="3" height="6" fill="#fff"/>
<rect x="1211" y="264" width="1" height="8" fill="#000"/>
<rect x="1209" y="267" width="5" height="5" fill="#000"/>
<rect x="1210" y="268" width="3" height="3" fill="#fff"/>
<rect x="1219" y="246" width="1" height="15" fill="#000"/>
<rect x="1217" y="248" width="5" height="2" fill="#000"/>
<rect x="1227" y="222" width="1" height="30" fill="#000"/>
<rect x="1225" y="235" width="5" height="12" fill="#000"/>
<rect x="1226" y="236" width="3" height="10" fill="#fff"/>
<rect x="1235" y="210" width="1" height="28" fill="#000"/>
<rect x="1233" y="233" width="5" height="3" fill="#000"/>
<rect x="1234" y="234" width="3" height="1" fill="#fff"/>
<rect x="1243" y="226" width="1" height="35" fill="#000"/>
<rect x="1241" y="233" width="5" height="22" fill="#000"/>
<rect x="1251" y="202" width="1" height="74" fill="#000"/>
<rect x="1249" y="235" width="5" height="19" fill="#000"/>
<rect x="1250" y="236" width="3" height="17" fill="#fff"/>
<rect x="1259" y="225" width="1" height="33" fill="#000"/>
<rect x="1257" y="236" width="5" height="17" fill="#000"/>
<rect x="1267" y="247" width="1" height="16" fill="#000"/>
<rect x="1265" y="252" width="5" height="3" fill="#000"/>
<rect x="1275" y="237" width="1" height="32" fill="#000"/>
<rect x="1273" y="246" width="5" height="8" fill="#000"/>
<rect x="1274" y="247" width="3" height="6" fill="#fff"/>
<rect x="1283" y="224" width="1" height="63" fill="#000"/>
<rect x="1281" y="245" width="5" height="35" fill="#000"/>
<rect x="1291" y="274" width="1" height="33" fill="#000"/>
<rect x="1289" y="278" width="5" height="6" fill="#000"/>
<rect x="1299" y="271" width="1" height="108" fill="#000"/>
<rect x="1297" y="282" width="5" height="97" fill="#000"/>
<rect x="1307" y="344" width="1" height="70" fill="#000"/>
<rect x="1305" y="379" width="5" height="22" fill="#000"/>
<rect x="1315" y="372" width="1" height="29" fill="#000"/>
<rect x="1313" y="373" width="5" height="28" fill="#000"/>
<rect x="1314" y="374" width="3" height="26" fill="#fff"/>
<rect x="1323" y="354" width="1" height="39" fill="#000"/>
<rect x="1321" y="360" width="5" height="12" fill="#000"/>
<rect x="1322" y="361" width="3" height="10" fill="#fff"/>
<rect x="1331" y="341" width="1" height="28" fill="#000"/>
<rect x="1329" y="347" width="5" height="13" fill="#000"/>
<rect x="1330" y="348" width="3" height="11" fill="#fff"/>
<rect x="1339" y="341" width="1" height="41" fill="#000"/>
<rect x="1337" y="346" width="5" height="15" fill="#000"/>
<rect x="1347" y="338" width="1" height="64" fill="#000"/>
<rect x="1345" y="351" width="5" height="10" fill="#000"/>
<rect x="1346" y="352" width="3" height="8" fill="#fff"/>
<rect x="1355" y="328" width="1" height="57" fill="#000"/>
<rect x="1353" y="351" width="5" height="26" fill="#000"/>
<rect x="1363" y="345" width="1" height="33" fill="#000"/>
<rect x="1361" y="354" width="5" height="23" fill="#000"/>
<rect x="1362" y="355" width="3" height="21" fill="#fff"/>
<rect x="1371" y="334" width="1" height="25" fill="#000"/>
<rect x="1369" y="336" width="5" height="20" fill="#000"/>
<rect x="1370" y="337" width="3" height="18" fill="#fff"/>
<rect x="1379" y="302" width="1" height="37" fill="#000"/>
<rect x="1377" y="311" width="5" height="26" fill="#000"/>
<rect x="1378" y="312" width="3" height="24" fill="#fff"/>
<rect x="1387" y="306" width="1" height="42" fill="#000"/>
<rect x="1385" y="312" width="5" height="36" fill="#000"/>
<rect x="1395" y="334" width="1" height="138" fill="#000"/>
<rect x="1393" y="347" width="5" height="114" fill="#000"/>
<rect x="1403" y="434" width="1" height="86" fill="#000"/>
<rect x="1401" y="460" width="5" height="58" fill="#000"/>
<rect x="1411" y="513" width="1" height="14" fill="#000"/>
<rect x="1409" y="513" width="5" height="4" fill="#000"/>
<rect x="1410" y="514" width="3" height="2" fill="#fff"/>
<rect x="1417" y="513" width="5" height="1" fill="#000"/>
</g>
<line x1="1239.0" y1="204.5" x2="1302.5" y2="394.5" stroke="#ff0000" stroke-width="3.7" shape-rendering="crispEdges"/>
<polygon points="1305.5,403.5 1297.3,394.1 1306.4,391.1" fill="#ff0000" shape-rendering="crispEdges"/>
<line x1="1305.5" y1="402.0" x2="1374.0" y2="317.4" stroke="#ff0000" stroke-width="3.7" shape-rendering="crispEdges"/>
<polygon points="1380.0,310.0 1376.5,322.0 1369.0,315.9" fill="#ff0000" shape-rendering="crispEdges"/>
<line x1="1380.5" y1="311.0" x2="1418.0" y2="543.6" stroke="#ff0000" stroke-width="3.7" shape-rendering="crispEdges"/>
<polygon points="1419.5,553.0 1412.9,542.4 1422.4,540.9" fill="#ff0000" shape-rendering="crispEdges"/>
<rect x="1376" y="488" width="90" height="6" fill="#00ff00" shape-rendering="crispEdges"/>
</g>
<g clip-path="url(#cmacd)">
<g shape-rendering="crispEdges" fill="#c0c0c0">
<rect x="3" y="659" width="1" height="1"/>
<rect x="11" y="653" width="1" height="7"/>
<rect x="19" y="647" width="1" height="13"/>
<rect x="27" y="641" width="1" height="19"/>
<rect x="35" y="636" width="1" height="24"/>
<rect x="43" y="633" width="1" height="27"/>
<rect x="51" y="631" width="1" height="29"/>
<rect x="59" y="630" width="1" height="30"/>
<rect x="67" y="630" width="1" height="30"/>
<rect x="75" y="630" width="1" height="30"/>
<rect x="83" y="632" width="1" height="28"/>
<rect x="91" y="633" width="1" height="27"/>
<rect x="99" y="633" width="1" height="27"/>
<rect x="107" y="632" width="1" height="28"/>
<rect x="115" y="632" width="1" height="28"/>
<rect x="123" y="632" width="1" height="28"/>
<rect x="131" y="634" width="1" height="26"/>
<rect x="139" y="634" width="1" height="26"/>
<rect x="147" y="634" width="1" height="26"/>
<rect x="155" y="638" width="1" height="22"/>
<rect x="163" y="644" width="1" height="16"/>
<rect x="171" y="650" width="1" height="10"/>
<rect x="179" y="653" width="1" height="7"/>
<rect x="187" y="654" width="1" height="6"/>
<rect x="195" y="656" width="1" height="4"/>
<rect x="203" y="652" width="1" height="8"/>
<rect x="211" y="649" width="1" height="11"/>
<rect x="219" y="647" width="1" height="13"/>
<rect x="227" y="644" width="1" height="16"/>
<rect x="235" y="643" width="1" height="17"/>
<rect x="243" y="642" width="1" height="18"/>
<rect x="251" y="641" width="1" height="19"/>
<rect x="259" y="640" width="1" height="20"/>
<rect x="267" y="643" width="1" height="17"/>
<rect x="275" y="644" width="1" height="16"/>
<rect x="283" y="645" width="1" height="15"/>
<rect x="291" y="644" width="1" height="16"/>
<rect x="299" y="647" width="1" height="13"/>
<rect x="307" y="647" width="1" height="13"/>
<rect x="315" y="649" width="1" height="11"/>
<rect x="323" y="649" width="1" height="11"/>
<rect x="331" y="649" width="1" height="11"/>
<rect x="339" y="646" width="1" height="14"/>
<rect x="347" y="646" width="1" height="14"/>
<rect x="355" y="649" width="1" height="11"/>
<rect x="363" y="653" width="1" height="7"/>
<rect x="371" y="657" width="1" height="3"/>
<rect x="379" y="659" width="1" height="1"/>
<rect x="387" y="659" width="1" height="1"/>
<rect x="395" y="659" width="1" height="1"/>
<rect x="403" y="658" width="1" height="2"/>
<rect x="411" y="656" width="1" height="4"/>
<rect x="419" y="655" width="1" height="5"/>
<rect x="427" y="653" width="1" height="7"/>
<rect x="435" y="651" width="1" height="9"/>
<rect x="443" y="650" width="1" height="10"/>
<rect x="451" y="653" width="1" height="7"/>
<rect x="459" y="655" width="1" height="5"/>
<rect x="467" y="657" width="1" height="3"/>
<rect x="475" y="659" width="1" height="1"/>
<rect x="483" y="659" width="1" height="1"/>
<rect x="491" y="659" width="1" height="1"/>
<rect x="499" y="657" width="1" height="3"/>
<rect x="507" y="656" width="1" height="4"/>
<rect x="515" y="656" width="1" height="4"/>
<rect x="523" y="656" width="1" height="4"/>
<rect x="531" y="656" width="1" height="4"/>
<rect x="539" y="657" width="1" height="3"/>
<rect x="547" y="657" width="1" height="3"/>
<rect x="555" y="659" width="1" height="8"/>
<rect x="563" y="659" width="1" height="15"/>
<rect x="571" y="659" width="1" height="22"/>
<rect x="579" y="659" width="1" height="26"/>
<rect x="587" y="659" width="1" height="33"/>
<rect x="595" y="659" width="1" height="35"/>
<rect x="603" y="659" width="1" height="40"/>
<rect x="611" y="659" width="1" height="41"/>
<rect x="619" y="659" width="1" height="42"/>
<rect x="627" y="659" width="1" height="44"/>
<rect x="635" y="659" width="1" height="46"/>
<rect x="643" y="659" width="1" height="44"/>
<rect x="651" y="659" width="1" height="41"/>
<rect x="659" y="659" width="1" height="43"/>
<rect x="667" y="659" width="1" height="44"/>
<rect x="675" y="659" width="1" height="41"/>
<rect x="683" y="659" width="1" height="37"/>
<rect x="691" y="659" width="1" height="33"/>
<rect x="699" y="659" width="1" height="37"/>
<rect x="707" y="659" width="1" height="45"/>
<rect x="715" y="659" width="1" height="50"/>
<rect x="723" y="659" width="1" height="51"/>
<rect x="731" y="659" width="1" height="52"/>
<rect x="739" y="659" width="1" height="50"/>
<rect x="747" y="659" width="1" height="47"/>
<rect x="755" y="659" width="1" height="43"/>
<rect x="763" y="659" width="1" height="38"/>
<rect x="771" y="659" width="1" height="33"/>
<rect x="779" y="659" width="1" height="27"/>
<rect x="787" y="659" width="1" height="24"/>
<rect x="795" y="659" width="1" height="23"/>
<rect x="803" y="659" width="1" height="27"/>
<rect x="811" y="659" width="1" height="32"/>
<rect x="819" y="659" width="1" height="38"/>
<rect x="827" y="659" width="1" height="42"/>
<rect x="835" y="659" width="1" height="46"/>
<rect x="843" y="659" width="1" height="50"/>
<rect x="851" y="659" width="1" height="48"/>
<rect x="859" y="659" width="1" height="43"/>
<rect x="867" y="659" width="1" height="37"/>
<rect x="875" y="659" width="1" height="34"/>
<rect x="883" y="659" width="1" height="31"/>
<rect x="891" y="659" width="1" height="29"/>
<rect x="899" y="659" width="1" height="31"/>
<rect x="907" y="659" width="1" height="30"/>
<rect x="915" y="659" width="1" height="29"/>
<rect x="923" y="659" width="1" height="27"/>
<rect x="931" y="659" width="1" height="24"/>
<rect x="939" y="659" width="1" height="25"/>
<rect x="947" y="659" width="1" height="29"/>
<rect x="955" y="659" width="1" height="31"/>
<rect x="963" y="659" width="1" height="33"/>
<rect x="971" y="659" width="1" height="36"/>
<rect x="979" y="659" width="1" height="45"/>
<rect x="987" y="659" width="1" height="56"/>
<rect x="995" y="659" width="1" height="69"/>
<rect x="1003" y="659" width="1" height="79"/>
<rect x="1011" y="659" width="1" height="85"/>
<rect x="1019" y="659" width="1" height="86"/>
<rect x="1027" y="659" width="1" height="81"/>
<rect x="1035" y="659" width="1" height="73"/>
<rect x="1043" y="659" width="1" height="69"/>
<rect x="1051" y="659" width="1" height="67"/>
<rect x="1059" y="659" width="1" height="73"/>
<rect x="1067" y="659" width="1" height="77"/>
<rect x="1075" y="659" width="1" height="77"/>
<rect x="1083" y="659" width="1" height="73"/>
<rect x="1091" y="659" width="1" height="67"/>
<rect x="1099" y="659" width="1" height="55"/>
<rect x="1107" y="659" width="1" height="47"/>
<rect x="1115" y="659" width="1" height="39"/>
<rect x="1123" y="659" width="1" height="31"/>
<rect x="1131" y="659" width="1" height="19"/>
<rect x="1139" y="659" width="1" height="12"/>
<rect x="1147" y="655" width="1" height="5"/>
<rect x="1155" y="644" width="1" height="16"/>
<rect x="1163" y="634" width="1" height="26"/>
<rect x="1171" y="627" width="1" height="33"/>
<rect x="1179" y="625" width="1" height="35"/>
<rect x="1187" y="626" width="1" height="34"/>
<rect x="1195" y="622" width="1" height="38"/>
<rect x="1203" y="619" width="1" height="41"/>
<rect x="1211" y="616" width="1" height="44"/>
<rect x="1219" y="612" width="1" height="48"/>
<rect x="1227" y="608" width="1" height="52"/>
<rect x="1235" y="605" width="1" height="55"/>
<rect x="1243" y="606" width="1" height="54"/>
<rect x="1251" y="606" width="1" height="54"/>
<rect x="1259" y="607" width="1" height="53"/>
<rect x="1267" y="609" width="1" height="51"/>
<rect x="1275" y="611" width="1" height="49"/>
<rect x="1283" y="617" width="1" height="43"/>
<rect x="1291" y="622" width="1" height="38"/>
<rect x="1299" y="637" width="1" height="23"/>
<rect x="1307" y="653" width="1" height="7"/>
<rect x="1315" y="659" width="1" height="1"/>
<rect x="1323" y="659" width="1" height="8"/>
<rect x="1331" y="659" width="1" height="11"/>
<rect x="1339" y="659" width="1" height="14"/>
<rect x="1347" y="659" width="1" height="16"/>
<rect x="1355" y="659" width="1" height="20"/>
<rect x="1363" y="659" width="1" height="19"/>
<rect x="1371" y="659" width="1" height="18"/>
<rect x="1379" y="659" width="1" height="13"/>
<rect x="1387" y="659" width="1" height="14"/>
<rect x="1395" y="659" width="1" height="27"/>
<rect x="1403" y="659" width="1" height="43"/>
<rect x="1411" y="659" width="1" height="56"/>
<rect x="1419" y="659" width="1" height="65"/>
</g>
<path d="M0 694h1v1h-1zM1 693h2v1h-2zM6 690h1v1h-1zM7 689h1v1h-1zM8 688h1v1h-1zM12 684h1v1h-1zM13 683h1v1h-1zM14 682h1v1h-1zM17 678h1v1h-1zM18 677h1v1h-1zM19 676h1v1h-1zM23 673h1v1h-1zM24 672h1v1h-1zM25 671h1v1h-1zM29 668h1v1h-1zM30 667h1v1h-1zM31 666h1v1h-1zM35 662h1v1h-1zM36 661h1v1h-1zM37 660h1v1h-1zM41 657h1v1h-1zM42 656h1v1h-1zM43 655h1v1h-1zM47 652h1v1h-1zM48 651h1v1h-1zM49 650h1v1h-1zM53 648h1v1h-1zM54 647h2v1h-2zM59 645h1v1h-1zM60 644h1v1h-1zM61 643h1v1h-1zM65 641h1v1h-1zM66 640h2v1h-2zM71 638h2v1h-2zM73 637h1v1h-1zM77 636h1v1h-1zM78 635h2v1h-2zM83 633h3v1h-3zM89 632h3v1h-3zM95 632h3v1h-3zM101 632h3v1h-3zM107 632h3v1h-3zM113 632h3v1h-3zM119 632h3v1h-3zM125 632h3v1h-3zM131 632h3v1h-3zM137 632h3v1h-3zM143 632h3v1h-3zM149 632h3v1h-3zM155 632h3v1h-3zM161 634h3v1h-3zM167 635h2v1h-2zM169 636h1v1h-1zM173 637h3v1h-3zM179 638h3v1h-3zM185 640h2v1h-2zM187 641h1v1h-1zM191 642h3v1h-3zM197 643h2v1h-2zM199 644h1v1h-1zM203 645h3v1h-3zM209 647h3v1h-3zM215 648h3v1h-3zM221 649h3v1h-3zM227 649h3v1h-3zM233 649h3v1h-3zM239 649h3v1h-3zM245 648h3v1h-3zM251 647h2v1h-2zM253 646h1v1h-1zM257 646h1v1h-1zM258 645h2v1h-2zM263 645h3v1h-3zM269 644h3v1h-3zM275 644h3v1h-3zM281 643h3v1h-3zM287 643h3v1h-3zM293 643h3v1h-3zM299 643h3v1h-3zM305 643h3v1h-3zM311 643h2v1h-2zM313 644h1v1h-1zM317 644h3v1h-3zM323 644h3v1h-3zM329 645h3v1h-3zM335 646h3v1h-3zM341 646h3v1h-3zM347 647h3v1h-3zM353 647h1v1h-1zM354 648h2v1h-2zM359 648h3v1h-3zM365 649h3v1h-3zM371 649h2v1h-2zM373 650h1v1h-1zM377 650h3v1h-3zM383 651h3v1h-3zM389 652h2v1h-2zM391 653h1v1h-1zM395 653h2v1h-2zM397 654h1v1h-1zM401 654h3v1h-3zM407 655h3v1h-3zM413 656h3v1h-3zM419 657h3v1h-3zM425 657h3v1h-3zM431 657h3v1h-3zM437 657h2v1h-2zM439 656h1v1h-1zM443 655h3v1h-3zM449 655h3v1h-3zM455 655h3v1h-3zM461 655h2v1h-2zM463 654h1v1h-1zM467 654h1v1h-1zM468 653h2v1h-2zM473 653h3v1h-3zM479 653h3v1h-3zM485 654h3v1h-3zM491 654h3v1h-3zM497 655h3v1h-3zM503 656h3v1h-3zM509 657h3v1h-3zM515 657h3v1h-3zM521 657h3v1h-3zM527 657h3v1h-3zM533 657h3v1h-3zM539 657h3v1h-3zM545 657h3v1h-3zM551 657h3v1h-3zM557 658h3v1h-3zM563 659h3v1h-3zM569 660h2v1h-2zM571 661h1v1h-1zM575 662h1v1h-1zM576 663h2v1h-2zM581 666h2v1h-2zM583 667h1v1h-1zM587 669h1v1h-1zM588 670h2v1h-2zM593 672h1v1h-1zM594 673h2v1h-2zM599 675h1v1h-1zM600 676h2v1h-2zM605 678h1v1h-1zM606 679h1v1h-1zM607 680h1v1h-1zM611 682h1v1h-1zM612 683h2v1h-2zM617 686h2v1h-2zM619 687h1v1h-1zM623 689h1v1h-1zM624 690h2v1h-2zM629 692h2v1h-2zM631 693h1v1h-1zM635 694h1v1h-1zM636 695h2v1h-2zM641 697h3v1h-3zM647 698h3v1h-3zM653 699h3v1h-3zM659 700h3v1h-3zM665 701h3v1h-3zM671 701h3v1h-3zM677 701h3v1h-3zM683 701h3v1h-3zM689 700h3v1h-3zM695 699h3v1h-3zM701 699h3v1h-3zM707 699h3v1h-3zM713 700h3v1h-3zM719 700h3v1h-3zM725 700h3v1h-3zM731 702h3v1h-3zM737 703h3v1h-3zM743 703h2v1h-2zM745 704h1v1h-1zM749 704h3v1h-3zM755 704h3v1h-3zM761 704h3v1h-3zM767 704h1v1h-1zM768 703h2v1h-2zM773 703h2v1h-2zM775 702h1v1h-1zM779 702h1v1h-1zM780 701h2v1h-2zM785 699h2v1h-2zM787 698h1v1h-1zM791 697h1v1h-1zM792 696h2v1h-2zM797 694h3v1h-3zM803 693h3v1h-3zM809 692h3v1h-3zM815 691h3v1h-3zM821 691h3v1h-3zM827 691h3v1h-3zM833 691h2v1h-2zM835 692h1v1h-1zM839 692h3v1h-3zM845 693h3v1h-3zM851 695h3v1h-3zM857 697h3v1h-3zM863 697h1v1h-1zM864 698h2v1h-2zM869 698h3v1h-3zM875 699h3v1h-3zM881 699h3v1h-3zM887 698h3v1h-3zM893 698h1v1h-1zM894 697h2v1h-2zM899 697h1v1h-1zM900 696h2v1h-2zM905 695h3v1h-3zM911 694h3v1h-3zM917 692h2v1h-2zM919 691h1v1h-1zM923 690h2v1h-2zM925 689h1v1h-1zM929 689h1v1h-1zM930 688h2v1h-2zM935 688h2v1h-2zM937 687h1v1h-1zM941 687h3v1h-3zM947 686h3v1h-3zM953 686h3v1h-3zM959 686h2v1h-2zM961 687h1v1h-1zM965 687h3v1h-3zM971 687h3v1h-3zM977 688h2v1h-2zM979 689h1v1h-1zM983 690h1v1h-1zM984 691h2v1h-2zM989 693h1v1h-1zM990 694h1v1h-1zM991 695h1v1h-1zM995 697h1v1h-1zM996 698h2v1h-2zM1001 701h1v1h-1zM1002 702h1v1h-1zM1003 703h1v1h-1zM1007 706h1v1h-1zM1008 707h1v1h-1zM1009 708h1v1h-1zM1013 711h2v1h-2zM1015 712h1v1h-1zM1019 715h1v1h-1zM1020 716h1v1h-1zM1021 717h1v1h-1zM1025 720h2v1h-2zM1027 721h1v1h-1zM1031 723h1v1h-1zM1032 724h2v1h-2zM1037 726h1v1h-1zM1038 727h2v1h-2zM1043 729h1v1h-1zM1044 730h2v1h-2zM1049 732h3v1h-3zM1055 733h3v1h-3zM1061 734h3v1h-3zM1067 735h3v1h-3zM1073 735h3v1h-3zM1079 735h1v1h-1zM1080 734h2v1h-2zM1085 734h1v1h-1zM1086 733h2v1h-2zM1091 732h2v1h-2zM1093 731h1v1h-1zM1097 730h2v1h-2zM1099 729h1v1h-1zM1103 728h1v1h-1zM1104 727h2v1h-2zM1109 725h2v1h-2zM1111 724h1v1h-1zM1115 723h1v1h-1zM1116 722h2v1h-2zM1121 720h1v1h-1zM1122 719h2v1h-2zM1127 716h1v1h-1zM1128 715h1v1h-1zM1129 714h1v1h-1zM1133 711h1v1h-1zM1134 710h1v1h-1zM1135 709h1v1h-1zM1139 705h1v1h-1zM1140 704h1v1h-1zM1141 703h1v1h-1zM1145 699h1v1h-1zM1146 698h1v1h-1zM1147 697h1v1h-1zM1150 693h1v1h-1zM1151 692h1v1h-1zM1152 691h1v1h-1zM1155 687h1v1h-1zM1156 686h1v1h-1zM1157 685h1v1h-1zM1160 681h1v1h-1zM1161 679v2h1v-2zM1164 675h1v1h-1zM1165 674h1v1h-1zM1166 673h1v1h-1zM1169 669h1v1h-1zM1170 668h1v1h-1zM1171 667h1v1h-1zM1174 663h1v1h-1zM1175 662h1v1h-1zM1176 661h1v1h-1zM1180 657h1v1h-1zM1181 656h1v1h-1zM1182 655h1v1h-1zM1186 651h1v1h-1zM1187 650h1v1h-1zM1188 649h1v1h-1zM1192 645h1v1h-1zM1193 644h2v1h-2zM1198 640h1v1h-1zM1199 639h1v1h-1zM1200 638h1v1h-1zM1204 635h1v1h-1zM1205 634h2v1h-2zM1210 631h1v1h-1zM1211 630h1v1h-1zM1212 629h1v1h-1zM1216 627h1v1h-1zM1217 626h2v1h-2zM1222 623h2v1h-2zM1224 622h1v1h-1zM1228 620h3v1h-3zM1234 618h1v1h-1zM1235 617h2v1h-2zM1240 616h1v1h-1zM1241 615h2v1h-2zM1246 614h1v1h-1zM1247 613h2v1h-2zM1252 612h2v1h-2zM1254 611h1v1h-1zM1258 610h3v1h-3zM1264 610h1v1h-1zM1265 609h2v1h-2zM1270 609h3v1h-3zM1276 608h3v1h-3zM1282 608h3v1h-3zM1288 609h3v1h-3zM1294 611h3v1h-3zM1300 613h1v1h-1zM1301 614h2v1h-2zM1306 617h1v1h-1zM1307 618h2v1h-2zM1312 621h1v1h-1zM1313 622h1v1h-1zM1314 623h1v1h-1zM1318 626h1v1h-1zM1319 627h1v1h-1zM1320 628h1v1h-1zM1324 631h1v1h-1zM1325 632h1v1h-1zM1326 633h1v1h-1zM1330 636h1v1h-1zM1331 637h1v1h-1zM1332 638h1v1h-1zM1336 641h1v1h-1zM1337 642h1v1h-1zM1338 643h1v1h-1zM1342 646h1v1h-1zM1343 647h1v1h-1zM1344 648h1v1h-1zM1348 651h1v1h-1zM1349 652h1v1h-1zM1350 653h1v1h-1zM1354 657h1v1h-1zM1355 658h2v1h-2zM1360 662h1v1h-1zM1361 663h1v1h-1zM1362 664h1v1h-1zM1366 666h1v1h-1zM1367 667h2v1h-2zM1372 670h2v1h-2zM1374 671h1v1h-1zM1378 672h3v1h-3zM1384 672h1v1h-1zM1385 673h2v1h-2zM1390 674h3v1h-3zM1396 675h1v1h-1zM1397 676h2v1h-2zM1402 678h2v1h-2zM1404 679h1v1h-1zM1408 681h1v1h-1zM1409 682h2v1h-2zM1414 685h1v1h-1zM1415 686h2v1h-2z" fill="#ff0000" shape-rendering="crispEdges"/>
<line x1="1271.0" y1="617.5" x2="1410.7" y2="704.7" stroke="#ff0000" stroke-width="3.7" shape-rendering="crispEdges"/>
<polygon points="1420.0,710.5 1406.3,707.9 1411.6,699.4" fill="#ff0000" shape-rendering="crispEdges"/>
</g>
<text x="0.0" y="608.4" font-size="9.9" fill="#000" textLength="128.0" lengthAdjust="spacingAndGlyphs"  stroke="#000" stroke-width="0.2">MACD(12,26,9) -167.41 -77.18</text>
<g clip-path="url(#crsi)">
<g shape-rendering="crispEdges" stroke="#c0c0c0" stroke-width="1" stroke-dasharray="3,3">
<line x1="2" y1="790.5" x2="1654" y2="790.5"/>
<line x1="2" y1="841.5" x2="1654" y2="841.5"/>
<line x1="2" y1="902.5" x2="1654" y2="902.5"/>
</g>
<path d="M-5 831h3v1h-3zM-2 830h4v1h-4zM2 829h2v1h-2zM4 828h1v1h-1zM5 827h1v1h-1zM6 826h2v1h-2zM8 825h1v1h-1zM9 824h1v1h-1zM10 823h1v1h-1zM11 822h2v1h-2zM13 823h2v1h-2zM15 824h2v1h-2zM17 825h2v1h-2zM19 826h2v1h-2zM21 825h2v1h-2zM23 824h2v1h-2zM25 823h2v1h-2zM27 822h13v1h-13zM40 823h14v1h-14zM54 824h4v1h-4zM58 825h6v1h-6zM64 826h8v1h-8zM72 825h4v1h-4zM76 826h2v1h-2zM78 827h1v1h-1zM79 828h1v1h-1zM80 829h2v1h-2zM82 830h1v1h-1zM83 831h2v1h-2zM85 830h3v1h-3zM88 829h2v1h-2zM90 828h4v1h-4zM94 827h4v1h-4zM98 826h2v1h-2zM100 825h1v1h-1zM101 824h1v1h-1zM102 823h1v1h-1zM103 821v2h1v-2zM104 820h1v1h-1zM105 819h1v1h-1zM106 818h1v1h-1zM107 817h1v1h-1zM108 818h1v1h-1zM109 819v2h1v-2zM110 821h1v1h-1zM111 822h1v1h-1zM112 823h1v1h-1zM113 824v2h1v-2zM114 826h1v1h-1zM115 827h3v1h-3zM118 826h4v1h-4zM122 825h2v1h-2zM124 826h2v1h-2zM126 827h1v1h-1zM127 828h1v1h-1zM128 829h2v1h-2zM130 830h1v1h-1zM131 831h2v1h-2zM133 830h3v1h-3zM136 829h2v1h-2zM138 828h3v1h-3zM141 827h2v1h-2zM143 826h2v1h-2zM145 825h2v1h-2zM147 824h1v1h-1zM148 825v2h1v-2zM149 827v2h1v-2zM150 829v2h1v-2zM151 831v2h1v-2zM152 833v2h1v-2zM153 835v2h1v-2zM154 837v2h1v-2zM155 839h1v1h-1zM156 840v2h1v-2zM157 842v2h1v-2zM158 844h1v1h-1zM159 845v2h1v-2zM160 847h1v1h-1zM161 848v2h1v-2zM162 850v2h1v-2zM163 852h3v1h-3zM166 853h4v1h-4zM170 854h2v1h-2zM172 853h1v1h-1zM173 852h1v1h-1zM174 851h2v1h-2zM176 850h1v1h-1zM177 849h1v1h-1zM178 848h1v1h-1zM179 847h1v1h-1zM180 846h1v1h-1zM181 845h1v1h-1zM182 844h2v1h-2zM184 843h1v1h-1zM185 842h1v1h-1zM186 841h1v1h-1zM187 840h2v1h-2zM189 841h2v1h-2zM191 842h2v1h-2zM193 843h2v1h-2zM195 843v2h1v-2zM196 841v2h1v-2zM197 839v2h1v-2zM198 837v2h1v-2zM199 835v2h1v-2zM200 833v2h1v-2zM201 831v2h1v-2zM202 829v2h1v-2zM203 828h5v1h-5zM208 827h6v1h-6zM214 828h4v1h-4zM218 829h2v1h-2zM220 828h2v1h-2zM222 827h1v1h-1zM223 826h1v1h-1zM224 825h2v1h-2zM226 824h1v1h-1zM227 823h3v1h-3zM230 824h4v1h-4zM234 825h6v1h-6zM240 826h14v1h-14zM254 825h4v1h-4zM258 824h2v1h-2zM260 825v2h1v-2zM261 827v2h1v-2zM262 829v2h1v-2zM263 831h1v1h-1zM264 832v2h1v-2zM265 834v2h1v-2zM266 836v2h1v-2zM267 838h3v1h-3zM270 837h4v1h-4zM274 836h3v1h-3zM277 835h2v1h-2zM279 834h2v1h-2zM281 833h2v1h-2zM283 832h2v1h-2zM285 831h2v1h-2zM287 830h2v1h-2zM289 829h2v1h-2zM291 828h1v1h-1zM292 829v2h1v-2zM293 831v2h1v-2zM294 833v2h1v-2zM295 835v2h1v-2zM296 837v2h1v-2zM297 839v2h1v-2zM298 841v2h1v-2zM299 843h1v1h-1zM300 842h1v1h-1zM301 841h1v1h-1zM302 840h1v1h-1zM303 838v2h1v-2zM304 837h1v1h-1zM305 836h1v1h-1zM306 835h1v1h-1zM307 834h1v1h-1zM308 835h1v1h-1zM309 836h1v1h-1zM310 837h1v1h-1zM311 838h1v1h-1zM312 839h1v1h-1zM313 840h1v1h-1zM314 841h1v1h-1zM315 842h1v1h-1zM316 841h1v1h-1zM317 840h1v1h-1zM318 839h2v1h-2zM320 838h1v1h-1zM321 837h1v1h-1zM322 836h1v1h-1zM323 835h2v1h-2zM325 834h3v1h-3zM328 833h2v1h-2zM330 832h2v1h-2zM332 831h2v1h-2zM334 830h1v1h-1zM335 829h1v1h-1zM336 828h2v1h-2zM338 827h1v1h-1zM339 826h2v1h-2zM341 827h2v1h-2zM343 828h2v1h-2zM345 829h2v1h-2zM347 830v2h1v-2zM348 832v2h1v-2zM349 834v2h1v-2zM350 836v2h1v-2zM351 838v3h1v-3zM352 841v2h1v-2zM353 843v2h1v-2zM354 845v2h1v-2zM355 847v2h1v-2zM356 848h2v1h-2zM358 849h4v1h-4zM362 850h10v1h-10zM372 851h2v1h-2zM374 852h2v1h-2zM376 853h1v1h-1zM377 854h2v1h-2zM379 855h1v1h-1zM380 853v2h1v-2zM381 852h1v1h-1zM382 850v2h1v-2zM383 849h1v1h-1zM384 847v2h1v-2zM385 846h1v1h-1zM386 844v2h1v-2zM387 843h3v1h-3zM390 842h4v1h-4zM394 841h2v1h-2zM396 839v2h1v-2zM397 838h1v1h-1zM398 837h1v1h-1zM399 835v2h1v-2zM400 834h1v1h-1zM401 833h1v1h-1zM402 831v2h1v-2zM403 830h3v1h-3zM406 831h4v1h-4zM410 832h3v1h-3zM413 833h3v1h-3zM416 834h2v1h-2zM418 835h2v1h-2zM420 834h1v1h-1zM421 833h1v1h-1zM422 832h1v1h-1zM423 831h1v1h-1zM424 830h1v1h-1zM425 829h1v1h-1zM426 828h1v1h-1zM427 827h5v1h-5zM432 828h5v1h-5zM437 829h3v1h-3zM440 830h2v1h-2zM442 831h2v1h-2zM443 832h1v1h-1zM444 833v2h1v-2zM445 835v2h1v-2zM446 837v2h1v-2zM447 839v3h1v-3zM448 842v2h1v-2zM449 844v2h1v-2zM450 846v2h1v-2zM451 848v2h1v-2zM452 849h1v1h-1zM453 848h2v1h-2zM455 847h2v1h-2zM457 846h2v1h-2zM459 845h3v1h-3zM462 846h4v1h-4zM466 847h2v1h-2zM468 848h2v1h-2zM470 849h2v1h-2zM472 850h1v1h-1zM473 851h2v1h-2zM475 852h1v1h-1zM476 851h1v1h-1zM477 850h1v1h-1zM478 849h1v1h-1zM479 848h1v1h-1zM480 847h1v1h-1zM481 846h1v1h-1zM482 845h1v1h-1zM483 844h1v1h-1zM484 843h1v1h-1zM485 842h1v1h-1zM486 841h1v1h-1zM487 840h1v1h-1zM488 839h1v1h-1zM489 838h1v1h-1zM490 837h1v1h-1zM491 836h3v1h-3zM494 835h4v1h-4zM498 834h6v1h-6zM504 833h12v1h-12zM516 834h1v1h-1zM517 835h1v1h-1zM518 836h1v1h-1zM519 837h1v1h-1zM520 838h1v1h-1zM521 839h1v1h-1zM522 840h1v1h-1zM523 841h3v1h-3zM526 840h4v1h-4zM530 839h4v1h-4zM534 840h4v1h-4zM538 841h10v1h-10zM547 842v2h1v-2zM548 844v4h1v-4zM549 848v4h1v-4zM550 852v5h1v-5zM551 857v4h1v-4zM552 861v5h1v-5zM553 866v4h1v-4zM554 870v4h1v-4zM555 874v3h1v-3zM556 876h4v1h-4zM560 875h5v1h-5zM565 876h2v1h-2zM567 877h2v1h-2zM569 878h2v1h-2zM571 879h1v1h-1zM572 878h1v1h-1zM573 877h1v1h-1zM574 876h2v1h-2zM576 875h1v1h-1zM577 874h1v1h-1zM578 873h1v1h-1zM579 872h1v1h-1zM580 873h1v1h-1zM581 874v2h1v-2zM582 876h1v1h-1zM583 877h1v1h-1zM584 878h1v1h-1zM585 879v2h1v-2zM586 881h1v1h-1zM587 881v2h1v-2zM588 879v2h1v-2zM589 877v2h1v-2zM590 874v3h1v-3zM591 872v2h1v-2zM592 869v3h1v-3zM593 867v2h1v-2zM594 865v2h1v-2zM595 863v2h1v-2zM596 864h1v1h-1zM597 865v2h1v-2zM598 867h1v1h-1zM599 868h1v1h-1zM600 869h1v1h-1zM601 870v2h1v-2zM602 872h1v1h-1zM603 873h1v1h-1zM604 871v2h1v-2zM605 870h1v1h-1zM606 869h1v1h-1zM607 867v2h1v-2zM608 866h1v1h-1zM609 865h1v1h-1zM610 863v2h1v-2zM611 862h2v1h-2zM613 863h3v1h-3zM616 864h2v1h-2zM618 865h3v1h-3zM621 866h2v1h-2zM623 867h2v1h-2zM625 868h2v1h-2zM627 869h3v1h-3zM630 870h4v1h-4zM634 871h2v1h-2zM636 869v2h1v-2zM637 867v2h1v-2zM638 865v2h1v-2zM639 864h1v1h-1zM640 862v2h1v-2zM641 860v2h1v-2zM642 858v2h1v-2zM643 857h1v1h-1zM644 856h2v1h-2zM646 855h1v1h-1zM647 854h1v1h-1zM648 853h2v1h-2zM650 852h1v1h-1zM651 851h1v1h-1zM652 852v2h1v-2zM653 854v2h1v-2zM654 856v2h1v-2zM655 858h1v1h-1zM656 859v2h1v-2zM657 861v2h1v-2zM658 863v2h1v-2zM659 865h9v1h-9zM668 863v2h1v-2zM669 862h1v1h-1zM670 861h1v1h-1zM671 859v2h1v-2zM672 858h1v1h-1zM673 857h1v1h-1zM674 855v2h1v-2zM675 854h1v1h-1zM676 853h1v1h-1zM677 852h1v1h-1zM678 851h1v1h-1zM679 850h1v1h-1zM680 849h1v1h-1zM681 848h1v1h-1zM682 847h1v1h-1zM683 846h5v1h-5zM688 847h4v1h-4zM691 848h1v1h-1zM692 849v2h1v-2zM693 851v2h1v-2zM694 853v2h1v-2zM695 855v2h1v-2zM696 857v2h1v-2zM697 859v2h1v-2zM698 861v2h1v-2zM699 863v2h1v-2zM700 865h1v1h-1zM701 866v2h1v-2zM702 868h1v1h-1zM703 869h1v1h-1zM704 870h1v1h-1zM705 871v2h1v-2zM706 873h1v1h-1zM707 874h2v1h-2zM709 873h3v1h-3zM712 872h2v1h-2zM714 871h2v1h-2zM716 870h1v1h-1zM717 868v2h1v-2zM718 867h1v1h-1zM719 866h1v1h-1zM720 865h1v1h-1zM721 863v2h1v-2zM722 862h1v1h-1zM723 861h2v1h-2zM725 862h3v1h-3zM728 863h2v1h-2zM730 864h2v1h-2zM732 863h1v1h-1zM733 862h1v1h-1zM734 861h2v1h-2zM736 860h1v1h-1zM737 859h1v1h-1zM738 858h1v1h-1zM739 857h2v1h-2zM741 856h2v1h-2zM743 855h2v1h-2zM745 854h2v1h-2zM747 853h2v1h-2zM749 852h3v1h-3zM752 851h2v1h-2zM754 850h3v1h-3zM757 849h3v1h-3zM760 848h2v1h-2zM762 847h2v1h-2zM764 846h2v1h-2zM766 845h2v1h-2zM768 844h1v1h-1zM769 843h2v1h-2zM771 842h3v1h-3zM774 841h4v1h-4zM778 840h2v1h-2zM780 841h2v1h-2zM782 842h2v1h-2zM784 843h1v1h-1zM785 844h2v1h-2zM787 845h1v1h-1zM788 846h2v1h-2zM790 847h1v1h-1zM791 848h1v1h-1zM792 849h2v1h-2zM794 850h1v1h-1zM795 851h1v1h-1zM796 852h1v1h-1zM797 853v2h1v-2zM798 855h1v1h-1zM799 856h1v1h-1zM800 857h1v1h-1zM801 858v2h1v-2zM802 860h1v1h-1zM803 861h1v1h-1zM804 862h1v1h-1zM805 863h1v1h-1zM806 864h2v1h-2zM808 865h1v1h-1zM809 866h1v1h-1zM810 867h1v1h-1zM811 868h2v1h-2zM813 869h2v1h-2zM815 870h2v1h-2zM817 871h2v1h-2zM819 872h5v1h-5zM824 871h6v1h-6zM830 872h4v1h-4zM834 873h4v1h-4zM838 874h4v1h-4zM842 875h2v1h-2zM844 873v2h1v-2zM845 871v2h1v-2zM846 869v2h1v-2zM847 868h1v1h-1zM848 866v2h1v-2zM849 864v2h1v-2zM850 862v2h1v-2zM851 861h1v1h-1zM852 859v2h1v-2zM853 857v2h1v-2zM854 855v2h1v-2zM855 854h1v1h-1zM856 852v2h1v-2zM857 850v2h1v-2zM858 848v2h1v-2zM859 847h3v1h-3zM862 846h4v1h-4zM866 845h2v1h-2zM868 846h2v1h-2zM870 847h2v1h-2zM872 848h1v1h-1zM873 849h2v1h-2zM875 850h2v1h-2zM877 849h3v1h-3zM880 848h2v1h-2zM882 847h3v1h-3zM885 848h3v1h-3zM888 849h2v1h-2zM890 850h2v1h-2zM892 851v2h1v-2zM893 853h1v1h-1zM894 854v2h1v-2zM895 856h1v1h-1zM896 857v2h1v-2zM897 859h1v1h-1zM898 860v2h1v-2zM899 862h1v1h-1zM900 860v2h1v-2zM901 859h1v1h-1zM902 857v2h1v-2zM903 856h1v1h-1zM904 854v2h1v-2zM905 853h1v1h-1zM906 851v2h1v-2zM907 850h2v1h-2zM909 851h3v1h-3zM912 852h2v1h-2zM914 853h3v1h-3zM917 852h2v1h-2zM919 851h2v1h-2zM921 850h2v1h-2zM923 849h2v1h-2zM925 848h2v1h-2zM927 847h2v1h-2zM929 846h2v1h-2zM931 845h1v1h-1zM932 846h1v1h-1zM933 847h1v1h-1zM934 848h1v1h-1zM935 849v2h1v-2zM936 851h1v1h-1zM937 852h1v1h-1zM938 853h1v1h-1zM939 854h1v1h-1zM940 855h1v1h-1zM941 856h1v1h-1zM942 857h1v1h-1zM943 858v2h1v-2zM944 860h1v1h-1zM945 861h1v1h-1zM946 862h1v1h-1zM947 863h5v1h-5zM952 862h6v1h-6zM958 863h4v1h-4zM962 864h3v1h-3zM965 865h3v1h-3zM968 866h2v1h-2zM970 867h2v1h-2zM972 868v2h1v-2zM973 870v2h1v-2zM974 872v2h1v-2zM975 874h1v1h-1zM976 875v2h1v-2zM977 877v2h1v-2zM978 879v2h1v-2zM979 881h1v1h-1zM980 882h2v1h-2zM982 883h1v1h-1zM983 884h1v1h-1zM984 885h2v1h-2zM986 886h1v1h-1zM987 887h1v1h-1zM988 888h2v1h-2zM990 889h2v1h-2zM992 890h1v1h-1zM993 891h2v1h-2zM995 892h17v1h-17zM1012 890v2h1v-2zM1013 889h1v1h-1zM1014 888h1v1h-1zM1015 886v2h1v-2zM1016 885h1v1h-1zM1017 884h1v1h-1zM1018 882v2h1v-2zM1019 880v2h1v-2zM1020 878v2h1v-2zM1021 876v2h1v-2zM1022 874v2h1v-2zM1023 871v3h1v-3zM1024 869v2h1v-2zM1025 867v2h1v-2zM1026 865v2h1v-2zM1027 863v2h1v-2zM1028 861v2h1v-2zM1029 860h1v1h-1zM1030 858v2h1v-2zM1031 857h1v1h-1zM1032 855v2h1v-2zM1033 854h1v1h-1zM1034 852v2h1v-2zM1035 851h1v1h-1zM1036 852h2v1h-2zM1038 853h1v1h-1zM1039 854h1v1h-1zM1040 855h2v1h-2zM1042 856h1v1h-1zM1043 857h1v1h-1zM1044 858h1v1h-1zM1045 859h1v1h-1zM1046 860h2v1h-2zM1048 861h1v1h-1zM1049 862h1v1h-1zM1050 863h1v1h-1zM1051 864h1v1h-1zM1052 865h1v1h-1zM1053 866v2h1v-2zM1054 868h1v1h-1zM1055 869h1v1h-1zM1056 870h1v1h-1zM1057 871v2h1v-2zM1058 873h1v1h-1zM1059 874h3v1h-3zM1062 875h4v1h-4zM1066 876h2v1h-2zM1068 875h1v1h-1zM1069 873v2h1v-2zM1070 872h1v1h-1zM1071 871h1v1h-1zM1072 870h1v1h-1zM1073 868v2h1v-2zM1074 867h1v1h-1zM1075 866h1v1h-1zM1076 865h1v1h-1zM1077 864h1v1h-1zM1078 863h2v1h-2zM1080 862h1v1h-1zM1081 861h1v1h-1zM1082 860h1v1h-1zM1083 859h2v1h-2zM1085 858h2v1h-2zM1087 857h2v1h-2zM1089 856h2v1h-2zM1091 854v2h1v-2zM1092 852v2h1v-2zM1093 850v2h1v-2zM1094 848v2h1v-2zM1095 845v3h1v-3zM1096 843v2h1v-2zM1097 841v2h1v-2zM1098 839v2h1v-2zM1099 837v2h1v-2zM1100 838h2v1h-2zM1102 839h1v1h-1zM1103 840h1v1h-1zM1104 841h2v1h-2zM1106 842h1v1h-1zM1107 843h2v1h-2zM1109 842h2v1h-2zM1111 841h2v1h-2zM1113 840h2v1h-2zM1115 839h3v1h-3zM1118 838h4v1h-4zM1122 837h2v1h-2zM1124 836h1v1h-1zM1125 835h1v1h-1zM1126 834h2v1h-2zM1128 833h1v1h-1zM1129 832h1v1h-1zM1130 831h1v1h-1zM1131 830h3v1h-3zM1134 831h4v1h-4zM1138 832h2v1h-2zM1139 831h1v1h-1zM1140 829v2h1v-2zM1141 827v2h1v-2zM1142 825v2h1v-2zM1143 823v2h1v-2zM1144 821v2h1v-2zM1145 819v2h1v-2zM1146 817v2h1v-2zM1147 816h3v1h-3zM1150 817h4v1h-4zM1154 818h14v1h-14zM1168 817h4v1h-4zM1172 818h1v1h-1zM1173 819v2h1v-2zM1174 821h1v1h-1zM1175 822h1v1h-1zM1176 823h1v1h-1zM1177 824v2h1v-2zM1178 826h1v1h-1zM1179 827h2v1h-2zM1181 828h3v1h-3zM1184 829h2v1h-2zM1186 830h2v1h-2zM1188 829h1v1h-1zM1189 828h1v1h-1zM1190 827h2v1h-2zM1192 826h1v1h-1zM1193 825h1v1h-1zM1194 824h1v1h-1zM1195 823h3v1h-3zM1198 822h4v1h-4zM1202 821h6v1h-6zM1208 820h5v1h-5zM1213 819h2v1h-2zM1215 818h2v1h-2zM1217 817h2v1h-2zM1219 816h2v1h-2zM1221 815h3v1h-3zM1224 814h2v1h-2zM1226 813h10v1h-10zM1236 814h1v1h-1zM1237 815h1v1h-1zM1238 816h1v1h-1zM1239 817h1v1h-1zM1240 818h1v1h-1zM1241 819h1v1h-1zM1242 820h1v1h-1zM1243 821h2v1h-2zM1245 820h2v1h-2zM1247 819h2v1h-2zM1249 818h2v1h-2zM1251 817h1v1h-1zM1252 818h2v1h-2zM1254 819h1v1h-1zM1255 820h1v1h-1zM1256 821h2v1h-2zM1258 822h1v1h-1zM1259 823h5v1h-5zM1264 824h6v1h-6zM1270 823h4v1h-4zM1274 822h2v1h-2zM1276 823v2h1v-2zM1277 825v2h1v-2zM1278 827h1v1h-1zM1279 828v2h1v-2zM1280 830h1v1h-1zM1281 831v2h1v-2zM1282 833v2h1v-2zM1283 835h3v1h-3zM1286 836h4v1h-4zM1290 837h2v1h-2zM1291 838h1v1h-1zM1292 839v4h1v-4zM1293 843v3h1v-3zM1294 846v3h1v-3zM1295 849v4h1v-4zM1296 853v3h1v-3zM1297 856v3h1v-3zM1298 859v4h1v-4zM1299 863v2h1v-2zM1300 864h1v1h-1zM1301 865h2v1h-2zM1303 866h2v1h-2zM1305 867h2v1h-2zM1307 868h1v1h-1zM1308 867h1v1h-1zM1309 865v2h1v-2zM1310 864h1v1h-1zM1311 863h1v1h-1zM1312 862h1v1h-1zM1313 860v2h1v-2zM1314 859h1v1h-1zM1315 858h2v1h-2zM1317 857h2v1h-2zM1319 856h2v1h-2zM1321 855h2v1h-2zM1323 854h2v1h-2zM1325 853h2v1h-2zM1327 852h2v1h-2zM1329 851h2v1h-2zM1331 850h2v1h-2zM1333 851h2v1h-2zM1335 852h2v1h-2zM1337 853h2v1h-2zM1339 854h2v1h-2zM1341 853h2v1h-2zM1343 852h2v1h-2zM1345 851h2v1h-2zM1347 850h1v1h-1zM1348 851h1v1h-1zM1349 852h1v1h-1zM1350 853h2v1h-2zM1352 854h1v1h-1zM1353 855h1v1h-1zM1354 856h1v1h-1zM1355 857h1v1h-1zM1356 856h1v1h-1zM1357 855h1v1h-1zM1358 854h1v1h-1zM1359 853h1v1h-1zM1360 852h1v1h-1zM1361 851h1v1h-1zM1362 850h1v1h-1zM1363 849h2v1h-2zM1365 848h2v1h-2zM1367 847h2v1h-2zM1369 846h2v1h-2zM1371 845h1v1h-1zM1372 844h1v1h-1zM1373 843h1v1h-1zM1374 842h1v1h-1zM1375 840v2h1v-2zM1376 839h1v1h-1zM1377 838h1v1h-1zM1378 837h1v1h-1zM1379 836h1v1h-1zM1380 837h1v1h-1zM1381 838h1v1h-1zM1382 839h1v1h-1zM1383 840v2h1v-2zM1384 842h1v1h-1zM1385 843h1v1h-1zM1386 844h1v1h-1zM1387 845v2h1v-2zM1388 847v3h1v-3zM1389 850v3h1v-3zM1390 853v3h1v-3zM1391 856v4h1v-4zM1392 860v3h1v-3zM1393 863v3h1v-3zM1394 866v3h1v-3zM1395 869v2h1v-2zM1396 871h1v1h-1zM1397 872h1v1h-1zM1398 873h2v1h-2zM1400 874h1v1h-1zM1401 875h1v1h-1zM1402 876h1v1h-1zM1403 877h5v1h-5zM1408 876h12v1h-12z" fill="#1e90ff" shape-rendering="crispEdges"/>
<line x1="1378.0" y1="841.0" x2="1408.6" y2="878.3" stroke="#ff0000" stroke-width="3.7" shape-rendering="crispEdges"/>
<polygon points="1415.0,886.0 1403.5,879.9 1411.2,873.6" fill="#ff0000" shape-rendering="crispEdges"/>
</g>
<text x="0.0" y="766.6" font-size="9.9" fill="#000" textLength="66.0" lengthAdjust="spacingAndGlyphs"  stroke="#000" stroke-width="0.2">RSI(14) 29.9830</text>
<g shape-rendering="crispEdges" fill="#000">
<rect x="0" y="27" width="1655" height="1"/>
<rect x="1654" y="27" width="1" height="568"/><rect x="1654" y="596" width="1" height="157"/><rect x="1654" y="754" width="1" height="175"/>
<rect x="0" y="594" width="1655" height="1"/>
<rect x="0" y="596" width="1655" height="1"/>
<rect x="0" y="752" width="1655" height="1"/>
<rect x="0" y="754" width="1655" height="1"/>
<rect x="0" y="928" width="1655" height="1"/>
</g>
<rect x="0" y="595" width="1655" height="1" fill="#fff" shape-rendering="crispEdges"/>
<rect x="0" y="753" width="1655" height="1" fill="#fff" shape-rendering="crispEdges"/>
<g shape-rendering="crispEdges" fill="#000">
<rect x="1655" y="30" width="2" height="1"/>
<rect x="1655" y="63" width="2" height="1"/>
<rect x="1655" y="96" width="2" height="1"/>
<rect x="1655" y="129" width="2" height="1"/>
<rect x="1655" y="162" width="2" height="1"/>
<rect x="1655" y="195" width="2" height="1"/>
<rect x="1655" y="228" width="2" height="1"/>
<rect x="1655" y="261" width="2" height="1"/>
<rect x="1655" y="294" width="2" height="1"/>
<rect x="1655" y="327" width="2" height="1"/>
<rect x="1655" y="360" width="2" height="1"/>
<rect x="1655" y="393" width="2" height="1"/>
<rect x="1655" y="426" width="2" height="1"/>
<rect x="1655" y="459" width="2" height="1"/>
<rect x="1655" y="492" width="2" height="1"/>
<rect x="1655" y="525" width="2" height="1"/>
<rect x="1655" y="558" width="2" height="1"/>
<rect x="1655" y="591" width="2" height="1"/>
<rect x="1655" y="598" width="1" height="1"/>
<rect x="1655" y="659" width="1" height="1"/>
<rect x="1655" y="751" width="1" height="1"/>
<rect x="1655" y="756" width="1" height="1"/>
<rect x="1655" y="927" width="1" height="1"/>
</g>
<text x="1660.0" y="33.4" font-size="9.9" fill="#000" textLength="33.5" lengthAdjust="spacingAndGlyphs"  stroke="#000" stroke-width="0.2">35598.5</text>
<text x="1660.0" y="66.4" font-size="9.9" fill="#000" textLength="33.5" lengthAdjust="spacingAndGlyphs"  stroke="#000" stroke-width="0.2">35469.0</text>
<text x="1660.0" y="99.4" font-size="9.9" fill="#000" textLength="33.5" lengthAdjust="spacingAndGlyphs"  stroke="#000" stroke-width="0.2">35343.0</text>
<text x="1660.0" y="132.4" font-size="9.9" fill="#000" textLength="33.5" lengthAdjust="spacingAndGlyphs"  stroke="#000" stroke-width="0.2">35217.0</text>
<text x="1660.0" y="165.4" font-size="9.9" fill="#000" textLength="33.5" lengthAdjust="spacingAndGlyphs"  stroke="#000" stroke-width="0.2">35087.5</text>
<text x="1660.0" y="198.4" font-size="9.9" fill="#000" textLength="33.5" lengthAdjust="spacingAndGlyphs"  stroke="#000" stroke-width="0.2">34961.5</text>
<text x="1660.0" y="231.4" font-size="9.9" fill="#000" textLength="33.5" lengthAdjust="spacingAndGlyphs"  stroke="#000" stroke-width="0.2">34835.5</text>
<text x="1660.0" y="264.4" font-size="9.9" fill="#000" textLength="33.5" lengthAdjust="spacingAndGlyphs"  stroke="#000" stroke-width="0.2">34706.0</text>
<text x="1660.0" y="297.4" font-size="9.9" fill="#000" textLength="33.5" lengthAdjust="spacingAndGlyphs"  stroke="#000" stroke-width="0.2">34580.0</text>
<text x="1660.0" y="330.4" font-size="9.9" fill="#000" textLength="33.5" lengthAdjust="spacingAndGlyphs"  stroke="#000" stroke-width="0.2">34450.5</text>
<text x="1660.0" y="363.4" font-size="9.9" fill="#000" textLength="33.5" lengthAdjust="spacingAndGlyphs"  stroke="#000" stroke-width="0.2">34324.5</text>
<text x="1660.0" y="396.4" font-size="9.9" fill="#000" textLength="33.5" lengthAdjust="spacingAndGlyphs"  stroke="#000" stroke-width="0.2">34198.5</text>
<text x="1660.0" y="429.4" font-size="9.9" fill="#000" textLength="33.5" lengthAdjust="spacingAndGlyphs"  stroke="#000" stroke-width="0.2">34069.0</text>
<text x="1660.0" y="462.4" font-size="9.9" fill="#000" textLength="33.5" lengthAdjust="spacingAndGlyphs"  stroke="#000" stroke-width="0.2">33942.0</text>
<text x="1660.0" y="495.4" font-size="9.9" fill="#000" textLength="33.5" lengthAdjust="spacingAndGlyphs"  stroke="#000" stroke-width="0.2">33812.5</text>
<text x="1660.0" y="528.4" font-size="9.9" fill="#000" textLength="33.5" lengthAdjust="spacingAndGlyphs"  stroke="#000" stroke-width="0.2">33687.5</text>
<text x="1660.0" y="561.4" font-size="9.9" fill="#000" textLength="33.5" lengthAdjust="spacingAndGlyphs"  stroke="#000" stroke-width="0.2">33561.5</text>
<text x="1660.0" y="594.4" font-size="9.9" fill="#000" textLength="33.5" lengthAdjust="spacingAndGlyphs"  stroke="#000" stroke-width="0.2">33435.5</text>
<text x="1658.0" y="606.6" font-size="9.9" fill="#000" textLength="28.0" lengthAdjust="spacingAndGlyphs"  stroke="#000" stroke-width="0.2">163.01</text>
<text x="1658.0" y="662.6" font-size="9.9" fill="#000" textLength="18.0" lengthAdjust="spacingAndGlyphs"  stroke="#000" stroke-width="0.2">0.00</text>
<text x="1658.0" y="748.6" font-size="9.9" fill="#000" textLength="31.0" lengthAdjust="spacingAndGlyphs"  stroke="#000" stroke-width="0.2">-243.09</text>
<text x="1658.0" y="764.6" font-size="9.9" fill="#000" textLength="14.5" lengthAdjust="spacingAndGlyphs"  stroke="#000" stroke-width="0.2">100</text>
<text x="1658.0" y="793.2" font-size="9.9" fill="#000" textLength="9.5" lengthAdjust="spacingAndGlyphs"  stroke="#000" stroke-width="0.2">80</text>
<text x="1658.0" y="844.2" font-size="9.9" fill="#000" textLength="9.5" lengthAdjust="spacingAndGlyphs"  stroke="#000" stroke-width="0.2">50</text>
<text x="1658.0" y="905.6" font-size="9.9" fill="#000" textLength="9.5" lengthAdjust="spacingAndGlyphs"  stroke="#000" stroke-width="0.2">15</text>
<text x="1658.0" y="924.6" font-size="9.9" fill="#000" textLength="4.5" lengthAdjust="spacingAndGlyphs"  stroke="#000" stroke-width="0.2">0</text>
<rect x="1656" y="438" width="41" height="10" fill="#ff0000" shape-rendering="crispEdges"/>
<text x="1660.0" y="446.4" font-size="9.9" fill="#fff" textLength="33.5" lengthAdjust="spacingAndGlyphs"  stroke="#fff" stroke-width="0.2">34006.1</text>
<rect x="1656" y="461" width="41" height="10" fill="#ff0000" shape-rendering="crispEdges"/>
<text x="1660.0" y="469.4" font-size="9.9" fill="#fff" textLength="33.5" lengthAdjust="spacingAndGlyphs"  stroke="#fff" stroke-width="0.2">33917.6</text>
<rect x="1656" y="485" width="41" height="10" fill="#32cd32" shape-rendering="crispEdges"/>
<text x="1660.0" y="493.4" font-size="9.9" fill="#fff" textLength="33.5" lengthAdjust="spacingAndGlyphs"  stroke="#fff" stroke-width="0.2">33825.2</text>
<rect x="1656" y="508" width="41" height="10" fill="#000000" shape-rendering="crispEdges"/>
<text x="1660.0" y="516.4" font-size="9.9" fill="#fff" textLength="33.5" lengthAdjust="spacingAndGlyphs"  stroke="#fff" stroke-width="0.2">33735.0</text>
<rect x="1656" y="538" width="41" height="10" fill="#0000ff" shape-rendering="crispEdges"/>
<text x="1660.0" y="546.4" font-size="9.9" fill="#fff" textLength="33.5" lengthAdjust="spacingAndGlyphs"  stroke="#fff" stroke-width="0.2">33621.3</text>
<rect x="1656" y="565" width="41" height="10" fill="#0000ff" shape-rendering="crispEdges"/>
<text x="1660.0" y="573.4" font-size="9.9" fill="#fff" textLength="33.5" lengthAdjust="spacingAndGlyphs"  stroke="#fff" stroke-width="0.2">33517.4</text>
<g shape-rendering="crispEdges" fill="#000">
<rect x="-5" y="929" width="1" height="3"/>
<rect x="59" y="929" width="1" height="3"/>
<rect x="123" y="929" width="1" height="3"/>
<rect x="187" y="929" width="1" height="3"/>
<rect x="251" y="929" width="1" height="3"/>
<rect x="315" y="929" width="1" height="3"/>
<rect x="379" y="929" width="1" height="3"/>
<rect x="443" y="929" width="1" height="3"/>
<rect x="507" y="929" width="1" height="3"/>
<rect x="571" y="929" width="1" height="3"/>
<rect x="635" y="929" width="1" height="3"/>
<rect x="699" y="929" width="1" height="3"/>
<rect x="763" y="929" width="1" height="3"/>
<rect x="827" y="929" width="1" height="3"/>
<rect x="891" y="929" width="1" height="3"/>
<rect x="955" y="929" width="1" height="3"/>
<rect x="1019" y="929" width="1" height="3"/>
<rect x="1083" y="929" width="1" height="3"/>
<rect x="1147" y="929" width="1" height="3"/>
<rect x="1211" y="929" width="1" height="3"/>
<rect x="1275" y="929" width="1" height="3"/>
<rect x="1339" y="929" width="1" height="3"/>
<rect x="1403" y="929" width="1" height="3"/>
</g>
<text x="-6.0" y="940.6" font-size="9.9" fill="#000" textLength="53.0" lengthAdjust="spacingAndGlyphs"  stroke="#000" stroke-width="0.2">23 Aug 2021</text>
<text x="58.0" y="940.6" font-size="9.9" fill="#000" textLength="55.5" lengthAdjust="spacingAndGlyphs"  stroke="#000" stroke-width="0.2">24 Aug 12:00</text>
<text x="122.0" y="940.6" font-size="9.9" fill="#000" textLength="55.5" lengthAdjust="spacingAndGlyphs"  stroke="#000" stroke-width="0.2">25 Aug 20:00</text>
<text x="186.0" y="940.6" font-size="9.9" fill="#000" textLength="55.5" lengthAdjust="spacingAndGlyphs"  stroke="#000" stroke-width="0.2">27 Aug 04:00</text>
<text x="250.0" y="940.6" font-size="9.9" fill="#000" textLength="55.5" lengthAdjust="spacingAndGlyphs"  stroke="#000" stroke-width="0.2">30 Aug 08:00</text>
<text x="314.0" y="940.6" font-size="9.9" fill="#000" textLength="55.5" lengthAdjust="spacingAndGlyphs"  stroke="#000" stroke-width="0.2">31 Aug 16:00</text>
<text x="378.0" y="940.6" font-size="9.9" fill="#000" textLength="50.5" lengthAdjust="spacingAndGlyphs"  stroke="#000" stroke-width="0.2">2 Sep 00:00</text>
<text x="442.0" y="940.6" font-size="9.9" fill="#000" textLength="50.5" lengthAdjust="spacingAndGlyphs"  stroke="#000" stroke-width="0.2">3 Sep 08:00</text>
<text x="506.0" y="940.6" font-size="9.9" fill="#000" textLength="50.5" lengthAdjust="spacingAndGlyphs"  stroke="#000" stroke-width="0.2">6 Sep 12:00</text>
<text x="570.0" y="940.6" font-size="9.9" fill="#000" textLength="50.5" lengthAdjust="spacingAndGlyphs"  stroke="#000" stroke-width="0.2">7 Sep 20:00</text>
<text x="634.0" y="940.6" font-size="9.9" fill="#000" textLength="50.5" lengthAdjust="spacingAndGlyphs"  stroke="#000" stroke-width="0.2">9 Sep 04:00</text>
<text x="698.0" y="940.6" font-size="9.9" fill="#000" textLength="55.5" lengthAdjust="spacingAndGlyphs"  stroke="#000" stroke-width="0.2">10 Sep 12:00</text>
<text x="762.0" y="940.6" font-size="9.9" fill="#000" textLength="55.5" lengthAdjust="spacingAndGlyphs"  stroke="#000" stroke-width="0.2">13 Sep 16:00</text>
<text x="826.0" y="940.6" font-size="9.9" fill="#000" textLength="55.5" lengthAdjust="spacingAndGlyphs"  stroke="#000" stroke-width="0.2">15 Sep 00:00</text>
<text x="890.0" y="940.6" font-size="9.9" fill="#000" textLength="55.5" lengthAdjust="spacingAndGlyphs"  stroke="#000" stroke-width="0.2">16 Sep 08:00</text>
<text x="954.0" y="940.6" font-size="9.9" fill="#000" textLength="55.5" lengthAdjust="spacingAndGlyphs"  stroke="#000" stroke-width="0.2">17 Sep 16:00</text>
<text x="1018.0" y="940.6" font-size="9.9" fill="#000" textLength="55.5" lengthAdjust="spacingAndGlyphs"  stroke="#000" stroke-width="0.2">20 Sep 20:00</text>
<text x="1082.0" y="940.6" font-size="9.9" fill="#000" textLength="55.5" lengthAdjust="spacingAndGlyphs"  stroke="#000" stroke-width="0.2">22 Sep 04:00</text>
<text x="1146.0" y="940.6" font-size="9.9" fill="#000" textLength="55.5" lengthAdjust="spacingAndGlyphs"  stroke="#000" stroke-width="0.2">23 Sep 12:00</text>
<text x="1210.0" y="940.6" font-size="9.9" fill="#000" textLength="55.5" lengthAdjust="spacingAndGlyphs"  stroke="#000" stroke-width="0.2">24 Sep 20:00</text>
<text x="1274.0" y="940.6" font-size="9.9" fill="#000" textLength="55.5" lengthAdjust="spacingAndGlyphs"  stroke="#000" stroke-width="0.2">28 Sep 00:00</text>
<text x="1338.0" y="940.6" font-size="9.9" fill="#000" textLength="55.5" lengthAdjust="spacingAndGlyphs"  stroke="#000" stroke-width="0.2">29 Sep 08:00</text>
<text x="1402.0" y="940.6" font-size="9.9" fill="#000" textLength="55.5" lengthAdjust="spacingAndGlyphs"  stroke="#000" stroke-width="0.2">30 Sep 16:00</text>
<polygon points="1415,28 1425,28 1420,33" fill="#c0c0c0"/>
<polygon points="0,38.5 0,33.5 4,38.5" fill="#000"/>
<g shape-rendering="crispEdges">
<rect x="0" y="47" width="219" height="59" fill="#fff"/>
<rect x="0" y="47" width="50" height="24" fill="url(#gTop)"/>
<rect x="165" y="47" width="52" height="24" fill="url(#gTop)"/>
<rect x="0" y="71" width="107" height="33" fill="url(#gBot)"/>
<rect x="109" y="71" width="108" height="33" fill="url(#gBot)"/>
<rect x="2" y="70" width="44" height="1" fill="#b01010"/><rect x="2" y="71" width="44" height="1" fill="#f07070"/>
<rect x="169" y="70" width="44" height="1" fill="#b01010"/><rect x="169" y="71" width="44" height="1" fill="#f07070"/>
<rect x="49" y="47" width="1" height="24" fill="#c01818"/><rect x="165" y="47" width="1" height="24" fill="#c01818"/>
<rect x="0" y="47" width="50" height="1" fill="#e04040"/><rect x="165" y="47" width="52" height="1" fill="#e04040"/>
<rect x="52.5" y="47.5" width="110" height="21" fill="#fff" stroke="#a9b0b8" stroke-width="1"/>
<rect x="54" y="49" width="18" height="19" fill="url(#gBtn)"/>
<rect x="143" y="49" width="18" height="19" fill="url(#gBtn)"/>
<rect x="73" y="48" width="1" height="20" fill="#a9b0b8"/><rect x="141" y="48" width="1" height="20" fill="#a9b0b8"/>
</g>
<polygon points="59.5,56 65.5,56 62.5,59" fill="#4b5fc4"/>
<polygon points="148.5,59 154.5,59 151.5,56" fill="#4b5fc4"/>
<text x="138.0" y="62.0" font-size="12" fill="#000" textLength="23.0" lengthAdjust="spacingAndGlyphs" text-anchor="end" >1.00</text>
<text x="10.0" y="63.3" font-size="12.5" fill="#fff" textLength="26.0" lengthAdjust="spacingAndGlyphs" >SELL</text>
<text x="178.5" y="63.3" font-size="12.5" fill="#fff" textLength="23.0" lengthAdjust="spacingAndGlyphs" >BUY</text>
<text x="14.5" y="98.8" font-size="11.5" fill="#fff" textLength="34.0" lengthAdjust="spacingAndGlyphs" font-weight="bold" >33733</text>
<text x="124.5" y="98.8" font-size="11.5" fill="#fff" textLength="33.5" lengthAdjust="spacingAndGlyphs" font-weight="bold" >33741</text>
<text x="60.4" y="98.8" font-size="33" fill="#fff" textLength="15.7" lengthAdjust="spacingAndGlyphs" stroke="url(#gBotU)" stroke-width="0.55">5</text>
<rect x="53.5" y="94.6" width="4.4" height="4.2" fill="#fff"/>
<text x="171.3" y="98.8" font-size="33" fill="#fff" textLength="15.7" lengthAdjust="spacingAndGlyphs" stroke="url(#gBotU)" stroke-width="0.55">5</text>
<rect x="164.4" y="94.6" width="4.4" height="4.2" fill="#fff"/>
<text x="10.0" y="38.7" font-size="9.9" fill="#000" textLength="186.0" lengthAdjust="spacingAndGlyphs"  stroke="#000" stroke-width="0.2">DJ30-,H4&#160; 33735.0 33735.0 33735.0 33735.0</text>
<rect x="1700" y="24" width="1" height="923" fill="#c4c4c4" shape-rendering="crispEdges"/>
<g shape-rendering="crispEdges">
<rect x="0" y="0" width="1701" height="23" fill="#f0f0f0"/>
<rect x="0" y="23" width="1701" height="1" fill="#b8b8b8"/>
<rect x="0" y="24" width="1701" height="1" fill="#6e6e6e"/>
</g>
<circle cx="-2.5" cy="9" r="6" fill="#d4e8fa" stroke="#5a96d8" stroke-width="1.6"/>
<line x1="2" y1="14.5" x2="6.5" y2="19.5" stroke="#d8a428" stroke-width="2.8" stroke-linecap="round"/>
<rect x="15" y="1" width="1" height="21" fill="#a0a0a0" shape-rendering="crispEdges"/>
<path d="M25.5,3.5 h8 l3,3 v10 h-11 z" fill="#fff" stroke="#8a8a8a" stroke-width="1"/>
<path d="M33.5,3.5 v3 h3" fill="#e8e8e8" stroke="#8a8a8a" stroke-width="1"/>
<g stroke="#9a9a9a" stroke-width="1" shape-rendering="crispEdges"><line x1="27" y1="6.5" x2="30" y2="6.5" stroke-width="2"/><line x1="27" y1="9.5" x2="34" y2="9.5"/><line x1="27" y1="11.5" x2="32" y2="11.5"/><line x1="27" y1="13.5" x2="31" y2="13.5"/></g>
<path d="M33.7,9.8 h2.9 v3.8 h3.8 v2.9 h-3.8 v3.8 h-2.9 v-3.8 h-3.8 v-2.9 h3.8 z" fill="#3ee03e" stroke="#0c9a0c" stroke-width="1"/>
<text x="44" y="14.2" font-size="12" fill="#000" textLength="36.4" lengthAdjust="spacing" style="font-family:'Liberation Sans','Noto Sans CJK SC',sans-serif">新订单</text>
<defs><linearGradient id="gBook" x1="0" y1="0" x2="1" y2="1"><stop offset="0" stop-color="#fff2a8"/><stop offset="0.35" stop-color="#f4cc3c"/><stop offset="1" stop-color="#c98f1a"/></linearGradient><linearGradient id="gCloud" x1="0" y1="0" x2="0" y2="1"><stop offset="0" stop-color="#ffffff"/><stop offset="1" stop-color="#b8c8e0"/></linearGradient><linearGradient id="gWin" x1="0" y1="0" x2="1" y2="1"><stop offset="0" stop-color="#48b8ff"/><stop offset="1" stop-color="#1a74e0"/></linearGradient><linearGradient id="gFun" x1="0" y1="0" x2="1" y2="1"><stop offset="0" stop-color="#fff08a"/><stop offset="1" stop-color="#e6a21c"/></linearGradient><radialGradient id="gRad" cx="0.4" cy="0.4" r="0.7"><stop offset="0" stop-color="#d8efd8"/><stop offset="1" stop-color="#58b058"/></radialGradient></defs>
<path d="M92,14.6 L101.2,20 L108.4,12.6 L107.8,11 L101,18.4 L92.2,13 Z" fill="#b07a18" stroke="#8a5c10" stroke-width="0.6"/>
<path d="M92.2,13 L96.6,5 Q97.2,3.6 98.6,4.6 L107.8,11 L101,18.4 Z" fill="url(#gBook)" stroke="#a06a10" stroke-width="0.9"/>
<path d="M93.6,12.6 L97.6,5.6" fill="none" stroke="#fff8d0" stroke-width="1.3"/>
<path d="M122.5,4 L126,3.2 L133.6,3.6 L133.6,12.5 L122.5,12.5 Z" fill="url(#gWin)" stroke="#1560c8" stroke-width="0.8"/>
<path d="M126.6,6 L132.3,5.6 L132.3,10.8 L126.6,10.8 Z" fill="#e8f4ff"/>
<path d="M127.6,8.2 h3.6" stroke="#6aa8e8" stroke-width="0.9"/>
<path d="M122.8,18.6 a2.9,2.9 0 0 1 0.6,-5.7 a3.6,3.6 0 0 1 6.6,-0.9 a2.8,2.8 0 0 1 3.6,2 a2.4,2.4 0 0 1 -0.3,4.6 z" fill="url(#gCloud)" stroke="#4f6fa4" stroke-width="1"/>
<circle cx="155.8" cy="10.8" r="7.6" fill="#fbfcfe"/>
<path d="M155.8,3.2 A7.6,7.6 0 0 1 156.5,18.4 L155.8,10.8 Z" fill="url(#gRad)"/>
<path d="M155.8,3.2 A7.6,7.6 0 0 0 153,17.9" fill="none" stroke="#7fa8e0" stroke-width="1.1"/>
<path d="M155.8,5.6 A5.2,5.2 0 0 0 153.6,15.5" fill="none" stroke="#5a8cdc" stroke-width="1.2"/>
<path d="M155.8,5.6 A5.2,5.2 0 0 1 160.6,12.6" fill="none" stroke="#a8d0b8" stroke-width="1"/>
<circle cx="155.8" cy="10.6" r="2.7" fill="#c4d8f4"/>
<circle cx="155.8" cy="10.6" r="1.7" fill="#2660d0"/>
<path d="M156.1,11.5 L156.6,18.6" stroke="#22a022" stroke-width="1.5"/>
<path d="M175.6,8.6 L190.6,8.6 L190,14 L181.8,18.8 Z" fill="url(#gFun)" stroke="#c89a20" stroke-width="0.6"/>
<ellipse cx="183" cy="7.4" rx="7.8" ry="2.9" fill="#4f98dc" stroke="#2f6eb8" stroke-width="0.7"/>
<path d="M178.9,7.2 Q179.2,2.6 182.6,2.8 Q186,2.6 186.2,7.2 Q182.6,8.6 178.9,7.2 Z" fill="#7cbcf0" stroke="#2f6eb8" stroke-width="0.7"/>
<circle cx="187.3" cy="14.8" r="4.2" fill="#e2281a" stroke="#b01808" stroke-width="0.6"/>
<rect x="185.9" y="13.4" width="2.9" height="2.9" fill="#fff"/>
<text x="196.5" y="14.2" font-size="12" fill="#000" textLength="47.7" lengthAdjust="spacing" style="font-family:'Liberation Sans','Noto Sans CJK SC',sans-serif">自动交易</text>
<rect x="251" y="1" width="1" height="21" fill="#a0a0a0" shape-rendering="crispEdges"/>
<g fill="#a8a8a8" shape-rendering="crispEdges"><rect x="255" y="2" width="3" height="1"/><rect x="255" y="4" width="3" height="1"/><rect x="255" y="6" width="3" height="1"/><rect x="255" y="8" width="3" height="1"/><rect x="255" y="10" width="3" height="1"/><rect x="255" y="12" width="3" height="1"/><rect x="255" y="14" width="3" height="1"/><rect x="255" y="16" width="3" height="1"/><rect x="255" y="18" width="3" height="1"/><rect x="255" y="20" width="3" height="1"/></g>
<g stroke="#555" stroke-width="1" fill="none" shape-rendering="crispEdges"><line x1="270.5" y1="5" x2="270.5" y2="19"/><line x1="267" y1="16.5" x2="281" y2="16.5"/></g>
<polygon points="268.5,7 270.5,4 272.5,7" fill="#555"/>
<polygon points="279.0,14.5 282.5,16.5 279.0,18.5" fill="#555"/>
<g stroke="#2a9a2a" stroke-width="1.4" fill="none"><path d="M275.5,6.5 v8 M273,13.5 h2.5 M275.5,7 h2.8"/></g>
<rect x="290" y="1" width="24" height="21" fill="#f9f9f9" shape-rendering="crispEdges"/>
<rect x="289" y="1" width="1" height="21" fill="#a0a0a0" shape-rendering="crispEdges"/>
<g stroke="#555" stroke-width="1" fill="none" shape-rendering="crispEdges"><line x1="298.5" y1="5" x2="298.5" y2="19"/><line x1="295" y1="16.5" x2="309" y2="16.5"/></g>
<polygon points="296.5,7 298.5,4 300.5,7" fill="#555"/>
<polygon points="307.0,14.5 310.5,16.5 307.0,18.5" fill="#555"/>
<line x1="304" y1="3" x2="304" y2="15" stroke="#0c8c0c" stroke-width="1.2"/>
<rect x="302" y="5.5" width="4" height="7.5" fill="#36d636" stroke="#0c8c0c" stroke-width="1"/>
<g stroke="#555" stroke-width="1" fill="none" shape-rendering="crispEdges"><line x1="325.5" y1="5" x2="325.5" y2="19"/><line x1="322" y1="16.5" x2="336" y2="16.5"/></g>
<polygon points="323.5,7 325.5,4 327.5,7" fill="#555"/>
<polygon points="334.0,14.5 337.5,16.5 334.0,18.5" fill="#555"/>
<path d="M324,13.5 C327,10 328,8 330,8 C332,8 333,11 336,12" fill="none" stroke="#2a9a2a" stroke-width="1.3"/>
<rect x="346" y="1" width="1" height="21" fill="#a0a0a0" shape-rendering="crispEdges"/>
<line x1="366.0" y1="13.5" x2="370.5" y2="18" stroke="#d8a428" stroke-width="3" stroke-linecap="round"/>
<circle cx="361.5" cy="9" r="5.6" fill="#d6eafb" stroke="#4a90dc" stroke-width="1.5"/>
<line x1="358.5" y1="9" x2="364.5" y2="9" stroke="#3f7ec4" stroke-width="1.8"/>
<line x1="361.5" y1="6" x2="361.5" y2="12" stroke="#3f7ec4" stroke-width="1.8"/>
<line x1="394.0" y1="13.5" x2="398.5" y2="18" stroke="#d8a428" stroke-width="3" stroke-linecap="round"/>
<circle cx="389.5" cy="9" r="5.6" fill="#d6eafb" stroke="#4a90dc" stroke-width="1.5"/>
<line x1="386.5" y1="9" x2="392.5" y2="9" stroke="#3f7ec4" stroke-width="1.8"/>
<rect x="411.0" y="3.0" width="7.5" height="7.5" fill="#3aa01c"/>
<rect x="412.3" y="6.0" width="5" height="3.5" fill="#f4f8ff"/>
<rect x="419.5" y="3.0" width="7.5" height="7.5" fill="#2a5cd0"/>
<rect x="420.8" y="6.0" width="5" height="3.5" fill="#f4f8ff"/>
<rect x="411.0" y="11.5" width="7.5" height="7.5" fill="#2a5cd0"/>
<rect x="412.3" y="14.5" width="5" height="3.5" fill="#f4f8ff"/>
<rect x="419.5" y="11.5" width="7.5" height="7.5" fill="#3aa01c"/>
<rect x="420.8" y="14.5" width="5" height="3.5" fill="#f4f8ff"/>
<rect x="436" y="1" width="1" height="21" fill="#a0a0a0" shape-rendering="crispEdges"/>
<rect x="441" y="1" width="25" height="21" fill="#f9f9f9" shape-rendering="crispEdges"/>
<rect x="440" y="1" width="1" height="21" fill="#a0a0a0" shape-rendering="crispEdges"/>
<g stroke="#555" stroke-width="1" fill="none" shape-rendering="crispEdges"><line x1="449.5" y1="5" x2="449.5" y2="19"/><line x1="446" y1="16.5" x2="460" y2="16.5"/></g>
<polygon points="447.5,7 449.5,4 451.5,7" fill="#555"/>
<polygon points="458.0,14.5 461.5,16.5 458.0,18.5" fill="#555"/>
<polygon points="455,6.5 455,14 459.5,10.2" fill="#c8f0c8" stroke="#2aa02a" stroke-width="1.1"/>
<rect x="470" y="1" width="24" height="21" fill="#f9f9f9" shape-rendering="crispEdges"/>
<rect x="469" y="1" width="1" height="21" fill="#a0a0a0" shape-rendering="crispEdges"/>
<g stroke="#555" stroke-width="1" fill="none" shape-rendering="crispEdges"><line x1="477.5" y1="5" x2="477.5" y2="19"/><line x1="474" y1="16.5" x2="488" y2="16.5"/></g>
<polygon points="475.5,7 477.5,4 479.5,7" fill="#555"/>
<polygon points="486.0,14.5 489.5,16.5 486.0,18.5" fill="#555"/>
<line x1="483.5" y1="5" x2="483.5" y2="15" stroke="#2a6ab0" stroke-width="1.3"/>
<path d="M489.5,10.5 h-4.5 M487.5,8 L485,10.5 L487.5,13" fill="none" stroke="#d84010" stroke-width="1.3"/>
<rect x="498" y="1" width="1" height="21" fill="#a0a0a0" shape-rendering="crispEdges"/>
<path d="M508.5,3.5 h8 l3,3 v10 h-11 z" fill="#fff" stroke="#8a8a8a" stroke-width="1"/>
<path d="M516.5,3.5 v3 h3" fill="#e8e8e8" stroke="#8a8a8a" stroke-width="1"/>
<path d="M514.5,6.5 q-2.5,-0.5 -2.5,2 v6 M510.5,10.5 h3.5" fill="none" stroke="#5a5a30" stroke-width="1.2"/>
<path d="M516.7,9.8 h2.9 v3.8 h3.8 v2.9 h-3.8 v3.8 h-2.9 v-3.8 h-3.8 v-2.9 h3.8 z" fill="#3ee03e" stroke="#0c9a0c" stroke-width="1"/>
<polygon points="530,10 536,10 533.0,13" fill="#000"/>
<circle cx="554" cy="11" r="7.6" fill="#2f74dc" stroke="#1c54b0" stroke-width="0.8"/>
<circle cx="554" cy="11" r="5.2" fill="#f4f8ff"/>
<path d="M554,7 v4.2 h3" fill="none" stroke="#444" stroke-width="1.1"/>
<path d="M548,6 a7.6,7.6 0 0 1 12,0" fill="none" stroke="#8cc0ff" stroke-width="1.2"/>
<polygon points="569,10 575,10 572.0,13" fill="#000"/>
<rect x="585.5" y="4.5" width="15" height="13" fill="#f8fbff" stroke="#3a78d0" stroke-width="1"/>
<rect x="585" y="4" width="16" height="2.5" fill="#3a78d0"/>
<line x1="586" y1="11.5" x2="600" y2="11.5" stroke="#3a78d0" stroke-width="1"/>
<path d="M587.5,10 l2.5,-1 l3,-1 l2.5,0.8 l3,-1.2" fill="none" stroke="#a02818" stroke-width="1.2"/>
<path d="M588,15.5 l3,-1.2 l2,0.8 l2.5,-1.6 l2.5,1.6" fill="none" stroke="#1c9a1c" stroke-width="1.2"/>
<polygon points="608,10 614,10 611.0,13" fill="#000"/>
<rect x="619" y="1" width="1" height="21" fill="#a0a0a0" shape-rendering="crispEdges"/>
<g fill="#a8a8a8" shape-rendering="crispEdges"><rect x="623" y="2" width="3" height="1"/><rect x="623" y="4" width="3" height="1"/><rect x="623" y="6" width="3" height="1"/><rect x="623" y="8" width="3" height="1"/><rect x="623" y="10" width="3" height="1"/><rect x="623" y="12" width="3" height="1"/><rect x="623" y="14" width="3" height="1"/><rect x="623" y="16" width="3" height="1"/><rect x="623" y="18" width="3" height="1"/><rect x="623" y="20" width="3" height="1"/></g>
<rect x="630" y="1" width="24" height="21" fill="#f9f9f9" shape-rendering="crispEdges"/>
<rect x="629" y="1" width="1" height="21" fill="#a0a0a0" shape-rendering="crispEdges"/>
<path d="M637.5,3.5 L637.5,15 L640.2,12.6 L642.4,17.8 L644.6,16.9 L642.4,11.8 L646,11.6 Z" fill="#444"/>
<g stroke="#444" stroke-width="1" shape-rendering="crispEdges"><line x1="669.5" y1="4" x2="669.5" y2="19"/><line x1="662" y1="11.5" x2="677" y2="11.5"/></g>
<rect x="669" y="11" width="1" height="1" fill="#f0f0f0"/>
<rect x="686" y="1" width="1" height="21" fill="#a0a0a0" shape-rendering="crispEdges"/>
<g stroke="#555" shape-rendering="crispEdges"><line x1="703.5" y1="5" x2="703.5" y2="18" stroke-width="1"/><line x1="726" y1="11.5" x2="738" y2="11.5" stroke-width="1"/></g>
<line x1="754" y1="18" x2="766" y2="6" stroke="#555" stroke-width="1.1"/>
<g stroke="#555" stroke-width="1" fill="none"><path d="M780.5,13 L792,4.5 M781.5,15.5 L793,7 M782.5,18 L794,9.5"/><path d="M783,11 l1,6 M786,9 l1,6 M789,7 l1,6 M792,4.5 l1,5" stroke-width="0.9"/></g>
<text x="791" y="20" font-size="6.5" font-weight="bold" fill="#444">E</text>
<g stroke="#555" stroke-width="1" stroke-dasharray="1,1" shape-rendering="crispEdges"><line x1="809" y1="4.5" x2="822" y2="4.5"/><line x1="809" y1="7.5" x2="822" y2="7.5"/><line x1="809" y1="11.5" x2="822" y2="11.5"/><line x1="809" y1="15.5" x2="818" y2="15.5"/></g>
<text x="819" y="20" font-size="6.5" font-weight="bold" fill="#444">F</text>
<text x="839.3" y="16" font-size="12.5" font-weight="bold" fill="#555" textLength="9" lengthAdjust="spacingAndGlyphs">A</text>
<rect x="866" y="4.5" width="12" height="13" fill="none" stroke="#555" stroke-width="1" stroke-dasharray="1,1" shape-rendering="crispEdges"/>
<text x="868" y="16" font-size="11.5" fill="#555" textLength="8" lengthAdjust="spacingAndGlyphs">T</text>
<polygon points="897,4 900,7 897,9.5 894,7" fill="#444"/>
<polygon points="903.5,12.5 907,15.5 903.5,18.5 900,15.5" fill="#444"/>
<path d="M896,11 L898.5,14 L903,8.5" fill="none" stroke="#444" stroke-width="1.5"/>
<polygon points="914,10 920,10 917.0,13" fill="#000"/>
<rect x="925" y="1" width="1" height="21" fill="#a0a0a0" shape-rendering="crispEdges"/>
<g fill="#a8a8a8" shape-rendering="crispEdges"><rect x="929" y="2" width="3" height="1"/><rect x="929" y="4" width="3" height="1"/><rect x="929" y="6" width="3" height="1"/><rect x="929" y="8" width="3" height="1"/><rect x="929" y="10" width="3" height="1"/><rect x="929" y="12" width="3" height="1"/><rect x="929" y="14" width="3" height="1"/><rect x="929" y="16" width="3" height="1"/><rect x="929" y="18" width="3" height="1"/><rect x="929" y="20" width="3" height="1"/></g>
<rect x="1076" y="1" width="24" height="21" fill="#f9f9f9" shape-rendering="crispEdges"/>
<rect x="1075" y="1" width="1" height="21" fill="#a0a0a0" shape-rendering="crispEdges"/>
<text x="940.6" y="14.8" font-size="9" fill="#444" textLength="13.0" lengthAdjust="spacingAndGlyphs">M1</text>
<text x="968.6" y="14.8" font-size="9" fill="#444" textLength="13.0" lengthAdjust="spacingAndGlyphs">M5</text>
<text x="994.6" y="14.8" font-size="9" fill="#444" textLength="18.0" lengthAdjust="spacingAndGlyphs">M15</text>
<text x="1022.4" y="14.8" font-size="9" fill="#444" textLength="18.0" lengthAdjust="spacingAndGlyphs">M30</text>
<text x="1053.7" y="14.8" font-size="9" fill="#444" textLength="12.0" lengthAdjust="spacingAndGlyphs">H1</text>
<text x="1080.5" y="14.8" font-size="9" fill="#444" textLength="12.5" lengthAdjust="spacingAndGlyphs">H4</text>
<text x="1109.6" y="14.8" font-size="9" fill="#444" textLength="11.5" lengthAdjust="spacingAndGlyphs">D1</text>
<text x="1137.3" y="14.8" font-size="9" fill="#444" textLength="14.0" lengthAdjust="spacingAndGlyphs">W1</text>
<text x="1163.6" y="14.8" font-size="9" fill="#444" textLength="14.8" lengthAdjust="spacingAndGlyphs">MN</text>
<rect x="1186" y="1" width="1" height="21" fill="#a0a0a0" shape-rendering="crispEdges"/>
<circle cx="1656" cy="8.5" r="4" fill="#f4f8ff" stroke="#2a62d0" stroke-width="1.5"/>
<line x1="1653" y1="11.5" x2="1648.8" y2="16" stroke="#2a5cc8" stroke-width="2.4"/>
<path d="M1673.5,13 a6,4.5 0 1 1 5,4.3 l-2,2.2 l-0.3,-2.6 a6,4.5 0 0 1 -2.7,-3.9 z" fill="#eceef4" stroke="#a8acb8" stroke-width="0.8"/>
<circle cx="1687.6" cy="8.3" r="8" fill="#e03a22"/>
<circle cx="1687.6" cy="6.5" r="6" fill="#ea5236" opacity="0.6"/>
<text x="1684.2" y="12.8" font-size="12.5" fill="#fff">1</text></svg>
</body></html>
